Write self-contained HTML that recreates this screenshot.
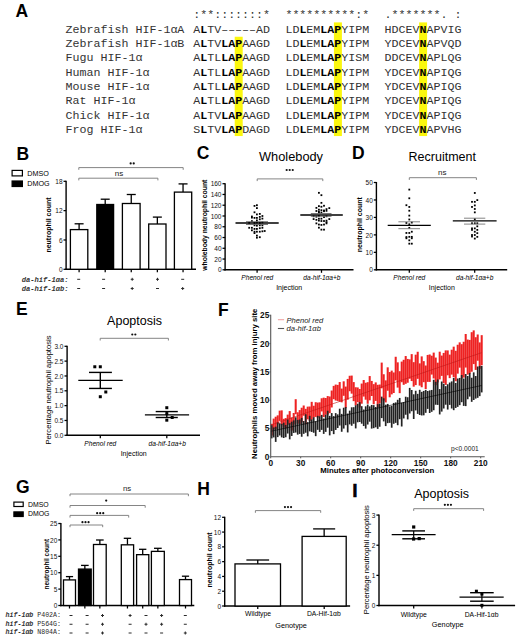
<!DOCTYPE html>
<html><head><meta charset="utf-8"><title>Figure</title>
<style>
html,body{margin:0;padding:0;background:#fff;}
body{width:520px;height:638px;overflow:hidden;font-family:"Liberation Sans",sans-serif;}
svg{display:block;}
</style></head>
<body>
<svg width="520" height="638" viewBox="0 0 520 638">
<rect x="0" y="0" width="520" height="638" fill="#fff"/>
<text x="15.60" y="16.90" font-size="17.5" text-anchor="start" font-weight="bold" font-style="normal" font-family="Liberation Sans, sans-serif" fill="#000" >A</text>
<rect x="234.70" y="36.75" width="8.00" height="99.30" fill="#fbf70e" stroke="none" stroke-width="0"/>
<rect x="333.90" y="22.40" width="8.00" height="113.65" fill="#fbf70e" stroke="none" stroke-width="0"/>
<rect x="419.10" y="22.40" width="8.00" height="113.65" fill="#fbf70e" stroke="none" stroke-width="0"/>
<text x="0" y="0" transform="translate(65.60,32.60) scale(1.0702,1)" font-size="10.9" font-family="Liberation Mono, monospace" fill="#333" xml:space="preserve">Zebrafish HIF-1&#945;A</text>
<text x="0" y="0" transform="translate(193.20,32.60) scale(1.0702,1)" font-size="10.9" font-family="Liberation Mono, monospace" fill="#333" xml:space="preserve">A<tspan font-weight="bold" fill="#000">L</tspan>TV&#8211;&#8211;&#8211;&#8211;&#8211;AD</text>
<text x="0" y="0" transform="translate(285.40,32.60) scale(1.0702,1)" font-size="10.9" font-family="Liberation Mono, monospace" fill="#333" xml:space="preserve">LD<tspan font-weight="bold" fill="#000">L</tspan>EM<tspan font-weight="bold" fill="#000">L</tspan><tspan font-weight="bold" fill="#000">A</tspan><tspan font-weight="bold" fill="#000">P</tspan>YIPM</text>
<text x="0" y="0" transform="translate(384.60,32.60) scale(1.0702,1)" font-size="10.9" font-family="Liberation Mono, monospace" fill="#333" xml:space="preserve">HDCEV<tspan font-weight="bold" fill="#000">N</tspan>APVIG</text>
<text x="0" y="0" transform="translate(65.60,46.95) scale(1.0702,1)" font-size="10.9" font-family="Liberation Mono, monospace" fill="#333" xml:space="preserve">Zebrafish HIF-1&#945;B</text>
<text x="0" y="0" transform="translate(193.20,46.95) scale(1.0702,1)" font-size="10.9" font-family="Liberation Mono, monospace" fill="#333" xml:space="preserve">A<tspan font-weight="bold" fill="#000">L</tspan>TV<tspan font-weight="bold" fill="#000">L</tspan><tspan font-weight="bold" fill="#000">A</tspan><tspan font-weight="bold" fill="#000">P</tspan>AAGD</text>
<text x="0" y="0" transform="translate(285.40,46.95) scale(1.0702,1)" font-size="10.9" font-family="Liberation Mono, monospace" fill="#333" xml:space="preserve">LD<tspan font-weight="bold" fill="#000">L</tspan>EM<tspan font-weight="bold" fill="#000">L</tspan><tspan font-weight="bold" fill="#000">A</tspan><tspan font-weight="bold" fill="#000">P</tspan>YIPM</text>
<text x="0" y="0" transform="translate(384.60,46.95) scale(1.0702,1)" font-size="10.9" font-family="Liberation Mono, monospace" fill="#333" xml:space="preserve">YDCEV<tspan font-weight="bold" fill="#000">N</tspan>APVQD</text>
<text x="0" y="0" transform="translate(65.60,61.30) scale(1.0702,1)" font-size="10.9" font-family="Liberation Mono, monospace" fill="#333" xml:space="preserve">Fugu HIF-1&#945;</text>
<text x="0" y="0" transform="translate(193.20,61.30) scale(1.0702,1)" font-size="10.9" font-family="Liberation Mono, monospace" fill="#333" xml:space="preserve">A<tspan font-weight="bold" fill="#000">L</tspan>TL<tspan font-weight="bold" fill="#000">L</tspan><tspan font-weight="bold" fill="#000">A</tspan><tspan font-weight="bold" fill="#000">P</tspan>AAGD</text>
<text x="0" y="0" transform="translate(285.40,61.30) scale(1.0702,1)" font-size="10.9" font-family="Liberation Mono, monospace" fill="#333" xml:space="preserve">LD<tspan font-weight="bold" fill="#000">L</tspan>EM<tspan font-weight="bold" fill="#000">L</tspan><tspan font-weight="bold" fill="#000">A</tspan><tspan font-weight="bold" fill="#000">P</tspan>YISM</text>
<text x="0" y="0" transform="translate(384.60,61.30) scale(1.0702,1)" font-size="10.9" font-family="Liberation Mono, monospace" fill="#333" xml:space="preserve">DDCEV<tspan font-weight="bold" fill="#000">N</tspan>APLQG</text>
<text x="0" y="0" transform="translate(65.60,75.65) scale(1.0702,1)" font-size="10.9" font-family="Liberation Mono, monospace" fill="#333" xml:space="preserve">Human HIF-1&#945;</text>
<text x="0" y="0" transform="translate(193.20,75.65) scale(1.0702,1)" font-size="10.9" font-family="Liberation Mono, monospace" fill="#333" xml:space="preserve">A<tspan font-weight="bold" fill="#000">L</tspan>TL<tspan font-weight="bold" fill="#000">L</tspan><tspan font-weight="bold" fill="#000">A</tspan><tspan font-weight="bold" fill="#000">P</tspan>AAGD</text>
<text x="0" y="0" transform="translate(285.40,75.65) scale(1.0702,1)" font-size="10.9" font-family="Liberation Mono, monospace" fill="#333" xml:space="preserve">LD<tspan font-weight="bold" fill="#000">L</tspan>EM<tspan font-weight="bold" fill="#000">L</tspan><tspan font-weight="bold" fill="#000">A</tspan><tspan font-weight="bold" fill="#000">P</tspan>YIPM</text>
<text x="0" y="0" transform="translate(384.60,75.65) scale(1.0702,1)" font-size="10.9" font-family="Liberation Mono, monospace" fill="#333" xml:space="preserve">YDCEV<tspan font-weight="bold" fill="#000">N</tspan>APIQG</text>
<text x="0" y="0" transform="translate(65.60,90.00) scale(1.0702,1)" font-size="10.9" font-family="Liberation Mono, monospace" fill="#333" xml:space="preserve">Mouse HIF-1&#945;</text>
<text x="0" y="0" transform="translate(193.20,90.00) scale(1.0702,1)" font-size="10.9" font-family="Liberation Mono, monospace" fill="#333" xml:space="preserve">A<tspan font-weight="bold" fill="#000">L</tspan>TL<tspan font-weight="bold" fill="#000">L</tspan><tspan font-weight="bold" fill="#000">A</tspan><tspan font-weight="bold" fill="#000">P</tspan>AAGD</text>
<text x="0" y="0" transform="translate(285.40,90.00) scale(1.0702,1)" font-size="10.9" font-family="Liberation Mono, monospace" fill="#333" xml:space="preserve">LD<tspan font-weight="bold" fill="#000">L</tspan>EM<tspan font-weight="bold" fill="#000">L</tspan><tspan font-weight="bold" fill="#000">A</tspan><tspan font-weight="bold" fill="#000">P</tspan>YIPM</text>
<text x="0" y="0" transform="translate(384.60,90.00) scale(1.0702,1)" font-size="10.9" font-family="Liberation Mono, monospace" fill="#333" xml:space="preserve">YDCEV<tspan font-weight="bold" fill="#000">N</tspan>APIQG</text>
<text x="0" y="0" transform="translate(65.60,104.35) scale(1.0702,1)" font-size="10.9" font-family="Liberation Mono, monospace" fill="#333" xml:space="preserve">Rat HIF-1&#945;</text>
<text x="0" y="0" transform="translate(193.20,104.35) scale(1.0702,1)" font-size="10.9" font-family="Liberation Mono, monospace" fill="#333" xml:space="preserve">A<tspan font-weight="bold" fill="#000">L</tspan>TL<tspan font-weight="bold" fill="#000">L</tspan><tspan font-weight="bold" fill="#000">A</tspan><tspan font-weight="bold" fill="#000">P</tspan>AAGD</text>
<text x="0" y="0" transform="translate(285.40,104.35) scale(1.0702,1)" font-size="10.9" font-family="Liberation Mono, monospace" fill="#333" xml:space="preserve">LD<tspan font-weight="bold" fill="#000">L</tspan>EM<tspan font-weight="bold" fill="#000">L</tspan><tspan font-weight="bold" fill="#000">A</tspan><tspan font-weight="bold" fill="#000">P</tspan>YIPM</text>
<text x="0" y="0" transform="translate(384.60,104.35) scale(1.0702,1)" font-size="10.9" font-family="Liberation Mono, monospace" fill="#333" xml:space="preserve">YDCEV<tspan font-weight="bold" fill="#000">N</tspan>APIQG</text>
<text x="0" y="0" transform="translate(65.60,118.70) scale(1.0702,1)" font-size="10.9" font-family="Liberation Mono, monospace" fill="#333" xml:space="preserve">Chick HIF-1&#945;</text>
<text x="0" y="0" transform="translate(193.20,118.70) scale(1.0702,1)" font-size="10.9" font-family="Liberation Mono, monospace" fill="#333" xml:space="preserve">A<tspan font-weight="bold" fill="#000">L</tspan>TV<tspan font-weight="bold" fill="#000">L</tspan><tspan font-weight="bold" fill="#000">A</tspan><tspan font-weight="bold" fill="#000">P</tspan>AAGD</text>
<text x="0" y="0" transform="translate(285.40,118.70) scale(1.0702,1)" font-size="10.9" font-family="Liberation Mono, monospace" fill="#333" xml:space="preserve">LD<tspan font-weight="bold" fill="#000">L</tspan>EM<tspan font-weight="bold" fill="#000">L</tspan><tspan font-weight="bold" fill="#000">A</tspan><tspan font-weight="bold" fill="#000">P</tspan>YIPM</text>
<text x="0" y="0" transform="translate(384.60,118.70) scale(1.0702,1)" font-size="10.9" font-family="Liberation Mono, monospace" fill="#333" xml:space="preserve">YDCEV<tspan font-weight="bold" fill="#000">N</tspan>APIQG</text>
<text x="0" y="0" transform="translate(65.60,133.05) scale(1.0702,1)" font-size="10.9" font-family="Liberation Mono, monospace" fill="#333" xml:space="preserve">Frog HIF-1&#945;</text>
<text x="0" y="0" transform="translate(193.20,133.05) scale(1.0702,1)" font-size="10.9" font-family="Liberation Mono, monospace" fill="#333" xml:space="preserve">S<tspan font-weight="bold" fill="#000">L</tspan>TV<tspan font-weight="bold" fill="#000">L</tspan><tspan font-weight="bold" fill="#000">A</tspan><tspan font-weight="bold" fill="#000">P</tspan>DAGD</text>
<text x="0" y="0" transform="translate(285.40,133.05) scale(1.0702,1)" font-size="10.9" font-family="Liberation Mono, monospace" fill="#333" xml:space="preserve">LD<tspan font-weight="bold" fill="#000">L</tspan>EM<tspan font-weight="bold" fill="#000">L</tspan><tspan font-weight="bold" fill="#000">A</tspan><tspan font-weight="bold" fill="#000">P</tspan>YIPM</text>
<text x="0" y="0" transform="translate(384.60,133.05) scale(1.0702,1)" font-size="10.9" font-family="Liberation Mono, monospace" fill="#333" xml:space="preserve">YDCEV<tspan font-weight="bold" fill="#000">N</tspan>APVHG</text>
<text x="0" y="0" transform="translate(193.20,18.25) scale(1.0702,1)" font-size="10.9" font-family="Liberation Mono, monospace" fill="#333" xml:space="preserve">:**:::::::*</text>
<text x="0" y="0" transform="translate(285.40,18.25) scale(1.0702,1)" font-size="10.9" font-family="Liberation Mono, monospace" fill="#333" xml:space="preserve">**********:*</text>
<text x="0" y="0" transform="translate(384.60,18.25) scale(1.0702,1)" font-size="10.9" font-family="Liberation Mono, monospace" fill="#333" xml:space="preserve">.*******. :</text>
<text x="16.60" y="159.60" font-size="17.5" text-anchor="start" font-weight="bold" font-style="normal" font-family="Liberation Sans, sans-serif" fill="#000" >B</text>
<rect x="12.10" y="170.40" width="10.30" height="5.50" fill="#fff" stroke="#000" stroke-width="1.2"/>
<text x="27.30" y="175.70" font-size="7.2" text-anchor="start" font-weight="normal" font-style="normal" font-family="Liberation Sans, sans-serif" fill="#000" >DMSO</text>
<rect x="12.10" y="181.00" width="10.30" height="5.50" fill="#000" stroke="#000" stroke-width="1.2"/>
<text x="27.30" y="186.00" font-size="7.2" text-anchor="start" font-weight="normal" font-style="normal" font-family="Liberation Sans, sans-serif" fill="#000" >DMOG</text>
<line x1="66.10" y1="180.80" x2="66.10" y2="270.00" stroke="#000" stroke-width="1.4" />
<line x1="63.50" y1="269.30" x2="66.10" y2="269.30" stroke="#000" stroke-width="1.26" />
<text x="62.50" y="271.93" font-size="6.5" text-anchor="end" font-weight="normal" font-style="normal" font-family="Liberation Sans, sans-serif" fill="#111" >0</text>
<line x1="63.50" y1="239.97" x2="66.10" y2="239.97" stroke="#000" stroke-width="1.26" />
<text x="62.50" y="242.59" font-size="6.5" text-anchor="end" font-weight="normal" font-style="normal" font-family="Liberation Sans, sans-serif" fill="#111" >6</text>
<line x1="63.50" y1="210.63" x2="66.10" y2="210.63" stroke="#000" stroke-width="1.26" />
<text x="62.50" y="213.26" font-size="6.5" text-anchor="end" font-weight="normal" font-style="normal" font-family="Liberation Sans, sans-serif" fill="#111" >12</text>
<line x1="63.50" y1="181.30" x2="66.10" y2="181.30" stroke="#000" stroke-width="1.26" />
<text x="62.50" y="183.93" font-size="6.5" text-anchor="end" font-weight="normal" font-style="normal" font-family="Liberation Sans, sans-serif" fill="#111" >18</text>
<line x1="65.40" y1="269.30" x2="196.00" y2="269.30" stroke="#000" stroke-width="1.4" />
<line x1="79.10" y1="269.30" x2="79.10" y2="272.30" stroke="#000" stroke-width="1.26" />
<line x1="105.20" y1="269.30" x2="105.20" y2="272.30" stroke="#000" stroke-width="1.26" />
<line x1="131.25" y1="269.30" x2="131.25" y2="272.30" stroke="#000" stroke-width="1.26" />
<line x1="157.35" y1="269.30" x2="157.35" y2="272.30" stroke="#000" stroke-width="1.26" />
<line x1="183.05" y1="269.30" x2="183.05" y2="272.30" stroke="#000" stroke-width="1.26" />
<line x1="79.10" y1="223.80" x2="79.10" y2="229.60" stroke="#000" stroke-width="1.3" />
<line x1="74.60" y1="223.80" x2="83.60" y2="223.80" stroke="#000" stroke-width="1.3" />
<rect x="70.40" y="229.60" width="17.40" height="39.70" fill="#fff" stroke="#000" stroke-width="1.3"/>
<line x1="105.20" y1="199.20" x2="105.20" y2="204.50" stroke="#000" stroke-width="1.3" />
<line x1="100.70" y1="199.20" x2="109.70" y2="199.20" stroke="#000" stroke-width="1.3" />
<rect x="96.80" y="204.50" width="16.80" height="64.80" fill="#000" stroke="#000" stroke-width="1.3"/>
<line x1="131.25" y1="194.50" x2="131.25" y2="203.50" stroke="#000" stroke-width="1.3" />
<line x1="126.75" y1="194.50" x2="135.75" y2="194.50" stroke="#000" stroke-width="1.3" />
<rect x="122.40" y="203.50" width="17.70" height="65.80" fill="#fff" stroke="#000" stroke-width="1.3"/>
<line x1="157.35" y1="217.10" x2="157.35" y2="224.00" stroke="#000" stroke-width="1.3" />
<line x1="152.85" y1="217.10" x2="161.85" y2="217.10" stroke="#000" stroke-width="1.3" />
<rect x="148.70" y="224.00" width="17.30" height="45.30" fill="#fff" stroke="#000" stroke-width="1.3"/>
<line x1="183.05" y1="183.90" x2="183.05" y2="192.10" stroke="#000" stroke-width="1.3" />
<line x1="178.55" y1="183.90" x2="187.55" y2="183.90" stroke="#000" stroke-width="1.3" />
<rect x="174.40" y="192.10" width="17.30" height="77.20" fill="#fff" stroke="#000" stroke-width="1.3"/>
<path d="M78.80,169.80 L78.80,167.60 L183.20,167.60 L183.20,169.80" fill="none" stroke="#777" stroke-width="0.9"/>
<circle cx="130.67" cy="163.40" r="1.1" fill="#111"/>
<circle cx="133.72" cy="163.40" r="1.1" fill="#111"/>
<path d="M78.80,180.40 L78.80,178.20 L157.90,178.20 L157.90,180.40" fill="none" stroke="#777" stroke-width="0.9"/>
<text x="119.00" y="176.20" font-size="8.0" text-anchor="middle" font-weight="normal" font-style="normal" font-family="Liberation Sans, sans-serif" fill="#222" >ns</text>
<text x="0" y="0" transform="translate(48.60,225.00) rotate(-90)" font-size="7.0" text-anchor="middle" dominant-baseline="central" font-weight="bold" font-style="normal" font-family="Liberation Sans, sans-serif" fill="#000">neutrophil count</text>
<text x="21.8" y="281.50" font-size="7.1" font-family="Liberation Mono, monospace" font-style="italic" font-weight="bold" fill="#333">da-hif-1&#945;a:</text>
<line x1="77.20" y1="279.30" x2="80.20" y2="279.30" stroke="#2a2a2a" stroke-width="1.0" />
<line x1="102.10" y1="279.30" x2="105.10" y2="279.30" stroke="#2a2a2a" stroke-width="1.0" />
<line x1="130.70" y1="279.30" x2="133.70" y2="279.30" stroke="#2a2a2a" stroke-width="1.0" />
<line x1="132.20" y1="277.80" x2="132.20" y2="280.80" stroke="#2a2a2a" stroke-width="1.0" />
<line x1="156.00" y1="279.30" x2="159.00" y2="279.30" stroke="#2a2a2a" stroke-width="1.0" />
<line x1="157.50" y1="277.80" x2="157.50" y2="280.80" stroke="#2a2a2a" stroke-width="1.0" />
<line x1="181.20" y1="279.30" x2="184.20" y2="279.30" stroke="#2a2a2a" stroke-width="1.0" />
<text x="21.8" y="290.50" font-size="7.1" font-family="Liberation Mono, monospace" font-style="italic" font-weight="bold" fill="#333">da-hif-1&#945;b:</text>
<line x1="77.20" y1="288.50" x2="80.20" y2="288.50" stroke="#2a2a2a" stroke-width="1.0" />
<line x1="102.10" y1="288.50" x2="105.10" y2="288.50" stroke="#2a2a2a" stroke-width="1.0" />
<line x1="130.70" y1="288.50" x2="133.70" y2="288.50" stroke="#2a2a2a" stroke-width="1.0" />
<line x1="132.20" y1="287.00" x2="132.20" y2="290.00" stroke="#2a2a2a" stroke-width="1.0" />
<line x1="156.00" y1="288.50" x2="159.00" y2="288.50" stroke="#2a2a2a" stroke-width="1.0" />
<line x1="181.20" y1="288.50" x2="184.20" y2="288.50" stroke="#2a2a2a" stroke-width="1.0" />
<line x1="182.70" y1="287.00" x2="182.70" y2="290.00" stroke="#2a2a2a" stroke-width="1.0" />
<text x="196.80" y="158.80" font-size="17.5" text-anchor="start" font-weight="bold" font-style="normal" font-family="Liberation Sans, sans-serif" fill="#000" >C</text>
<text x="259.00" y="161.00" font-size="12.8" text-anchor="start" font-weight="normal" font-style="normal" font-family="Liberation Sans, sans-serif" fill="#000" >Wholebody</text>
<line x1="225.10" y1="183.20" x2="225.10" y2="270.50" stroke="#000" stroke-width="1.4" />
<line x1="222.50" y1="269.80" x2="225.10" y2="269.80" stroke="#000" stroke-width="1.26" />
<text x="221.50" y="272.43" font-size="6.5" text-anchor="end" font-weight="normal" font-style="normal" font-family="Liberation Sans, sans-serif" fill="#111" >0</text>
<line x1="222.50" y1="259.04" x2="225.10" y2="259.04" stroke="#000" stroke-width="1.26" />
<text x="221.50" y="261.66" font-size="6.5" text-anchor="end" font-weight="normal" font-style="normal" font-family="Liberation Sans, sans-serif" fill="#111" >20</text>
<line x1="222.50" y1="248.28" x2="225.10" y2="248.28" stroke="#000" stroke-width="1.26" />
<text x="221.50" y="250.90" font-size="6.5" text-anchor="end" font-weight="normal" font-style="normal" font-family="Liberation Sans, sans-serif" fill="#111" >40</text>
<line x1="222.50" y1="237.51" x2="225.10" y2="237.51" stroke="#000" stroke-width="1.26" />
<text x="221.50" y="240.14" font-size="6.5" text-anchor="end" font-weight="normal" font-style="normal" font-family="Liberation Sans, sans-serif" fill="#111" >60</text>
<line x1="222.50" y1="226.75" x2="225.10" y2="226.75" stroke="#000" stroke-width="1.26" />
<text x="221.50" y="229.38" font-size="6.5" text-anchor="end" font-weight="normal" font-style="normal" font-family="Liberation Sans, sans-serif" fill="#111" >80</text>
<line x1="222.50" y1="215.99" x2="225.10" y2="215.99" stroke="#000" stroke-width="1.26" />
<text x="221.50" y="218.61" font-size="6.5" text-anchor="end" font-weight="normal" font-style="normal" font-family="Liberation Sans, sans-serif" fill="#111" >100</text>
<line x1="222.50" y1="205.22" x2="225.10" y2="205.22" stroke="#000" stroke-width="1.26" />
<text x="221.50" y="207.85" font-size="6.5" text-anchor="end" font-weight="normal" font-style="normal" font-family="Liberation Sans, sans-serif" fill="#111" >120</text>
<line x1="222.50" y1="194.46" x2="225.10" y2="194.46" stroke="#000" stroke-width="1.26" />
<text x="221.50" y="197.09" font-size="6.5" text-anchor="end" font-weight="normal" font-style="normal" font-family="Liberation Sans, sans-serif" fill="#111" >140</text>
<line x1="222.50" y1="183.70" x2="225.10" y2="183.70" stroke="#000" stroke-width="1.26" />
<text x="221.50" y="186.33" font-size="6.5" text-anchor="end" font-weight="normal" font-style="normal" font-family="Liberation Sans, sans-serif" fill="#111" >160</text>
<line x1="224.40" y1="269.80" x2="353.50" y2="269.80" stroke="#000" stroke-width="1.4" />
<line x1="257.10" y1="269.80" x2="257.10" y2="272.80" stroke="#000" stroke-width="1.26" />
<line x1="321.50" y1="269.80" x2="321.50" y2="272.80" stroke="#000" stroke-width="1.26" />
<path d="M257.20,181.10 L257.20,178.90 L322.80,178.90 L322.80,181.10" fill="none" stroke="#777" stroke-width="0.9"/>
<circle cx="286.65" cy="170.00" r="1.1" fill="#111"/>
<circle cx="289.70" cy="170.00" r="1.1" fill="#111"/>
<circle cx="292.75" cy="170.00" r="1.1" fill="#111"/>
<text x="0" y="0" transform="translate(204.30,225.20) rotate(-90)" font-size="6.8" text-anchor="middle" dominant-baseline="central" font-weight="bold" font-style="normal" font-family="Liberation Sans, sans-serif" fill="#000">wholebody neutrophil count</text>
<text x="257.30" y="279.60" font-size="6.6" text-anchor="middle" font-weight="normal" font-style="italic" font-family="Liberation Sans, sans-serif" fill="#000" >Phenol red</text>
<text x="321.90" y="279.60" font-size="6.6" text-anchor="middle" font-weight="normal" font-style="italic" font-family="Liberation Sans, sans-serif" fill="#000" >da-hif-1&#945;a+b</text>
<text x="289.20" y="289.80" font-size="7.0" text-anchor="middle" font-weight="normal" font-style="normal" font-family="Liberation Sans, sans-serif" fill="#000" >Injection</text>
<rect x="253.60" y="205.00" width="1.80" height="1.80" fill="#000" stroke="none" stroke-width="0"/>
<rect x="256.00" y="204.30" width="1.80" height="1.80" fill="#000" stroke="none" stroke-width="0"/>
<rect x="256.00" y="207.20" width="1.80" height="1.80" fill="#000" stroke="none" stroke-width="0"/>
<rect x="253.60" y="211.40" width="1.80" height="1.80" fill="#000" stroke="none" stroke-width="0"/>
<rect x="256.00" y="213.50" width="1.80" height="1.80" fill="#000" stroke="none" stroke-width="0"/>
<rect x="258.90" y="213.00" width="1.80" height="1.80" fill="#000" stroke="none" stroke-width="0"/>
<rect x="261.50" y="215.10" width="1.80" height="1.80" fill="#000" stroke="none" stroke-width="0"/>
<rect x="251.00" y="215.60" width="1.80" height="1.80" fill="#000" stroke="none" stroke-width="0"/>
<rect x="251.00" y="216.70" width="1.80" height="1.80" fill="#000" stroke="none" stroke-width="0"/>
<rect x="253.60" y="217.00" width="1.80" height="1.80" fill="#000" stroke="none" stroke-width="0"/>
<rect x="256.00" y="217.00" width="1.80" height="1.80" fill="#000" stroke="none" stroke-width="0"/>
<rect x="258.90" y="216.00" width="1.80" height="1.80" fill="#000" stroke="none" stroke-width="0"/>
<rect x="261.50" y="217.70" width="1.80" height="1.80" fill="#000" stroke="none" stroke-width="0"/>
<rect x="258.90" y="218.40" width="1.80" height="1.80" fill="#000" stroke="none" stroke-width="0"/>
<rect x="256.00" y="219.50" width="1.80" height="1.80" fill="#000" stroke="none" stroke-width="0"/>
<rect x="251.00" y="220.20" width="1.80" height="1.80" fill="#000" stroke="none" stroke-width="0"/>
<rect x="253.60" y="222.00" width="1.80" height="1.80" fill="#000" stroke="none" stroke-width="0"/>
<rect x="256.00" y="221.60" width="1.80" height="1.80" fill="#000" stroke="none" stroke-width="0"/>
<rect x="258.90" y="222.00" width="1.80" height="1.80" fill="#000" stroke="none" stroke-width="0"/>
<rect x="253.60" y="224.40" width="1.80" height="1.80" fill="#000" stroke="none" stroke-width="0"/>
<rect x="256.00" y="224.80" width="1.80" height="1.80" fill="#000" stroke="none" stroke-width="0"/>
<rect x="258.90" y="224.40" width="1.80" height="1.80" fill="#000" stroke="none" stroke-width="0"/>
<rect x="261.50" y="224.40" width="1.80" height="1.80" fill="#000" stroke="none" stroke-width="0"/>
<rect x="248.30" y="226.90" width="1.80" height="1.80" fill="#000" stroke="none" stroke-width="0"/>
<rect x="251.00" y="226.90" width="1.80" height="1.80" fill="#000" stroke="none" stroke-width="0"/>
<rect x="253.60" y="228.00" width="1.80" height="1.80" fill="#000" stroke="none" stroke-width="0"/>
<rect x="256.00" y="228.00" width="1.80" height="1.80" fill="#000" stroke="none" stroke-width="0"/>
<rect x="258.90" y="227.30" width="1.80" height="1.80" fill="#000" stroke="none" stroke-width="0"/>
<rect x="261.50" y="226.90" width="1.80" height="1.80" fill="#000" stroke="none" stroke-width="0"/>
<rect x="251.00" y="229.40" width="1.80" height="1.80" fill="#000" stroke="none" stroke-width="0"/>
<rect x="253.60" y="230.80" width="1.80" height="1.80" fill="#000" stroke="none" stroke-width="0"/>
<rect x="256.00" y="230.80" width="1.80" height="1.80" fill="#000" stroke="none" stroke-width="0"/>
<rect x="258.90" y="230.80" width="1.80" height="1.80" fill="#000" stroke="none" stroke-width="0"/>
<rect x="261.50" y="230.40" width="1.80" height="1.80" fill="#000" stroke="none" stroke-width="0"/>
<rect x="263.80" y="230.10" width="1.80" height="1.80" fill="#000" stroke="none" stroke-width="0"/>
<rect x="253.60" y="232.20" width="1.80" height="1.80" fill="#000" stroke="none" stroke-width="0"/>
<rect x="256.00" y="234.70" width="1.80" height="1.80" fill="#000" stroke="none" stroke-width="0"/>
<rect x="256.00" y="236.80" width="1.80" height="1.80" fill="#000" stroke="none" stroke-width="0"/>
<rect x="258.90" y="236.30" width="1.80" height="1.80" fill="#000" stroke="none" stroke-width="0"/>
<rect x="261.50" y="221.60" width="1.80" height="1.80" fill="#000" stroke="none" stroke-width="0"/>
<rect x="248.30" y="222.00" width="1.80" height="1.80" fill="#000" stroke="none" stroke-width="0"/>
<line x1="246.00" y1="221.70" x2="268.00" y2="221.70" stroke="#666" stroke-width="0.9" />
<line x1="246.00" y1="224.50" x2="268.00" y2="224.50" stroke="#666" stroke-width="0.9" />
<line x1="235.50" y1="223.10" x2="278.70" y2="223.10" stroke="#000" stroke-width="1.5" />
<rect x="318.00" y="191.93" width="1.80" height="1.80" fill="#000" stroke="none" stroke-width="0"/>
<rect x="320.50" y="194.28" width="1.80" height="1.80" fill="#000" stroke="none" stroke-width="0"/>
<rect x="320.50" y="201.95" width="1.80" height="1.80" fill="#000" stroke="none" stroke-width="0"/>
<rect x="318.00" y="205.24" width="1.80" height="1.80" fill="#000" stroke="none" stroke-width="0"/>
<rect x="320.50" y="205.87" width="1.80" height="1.80" fill="#000" stroke="none" stroke-width="0"/>
<rect x="323.10" y="204.85" width="1.80" height="1.80" fill="#000" stroke="none" stroke-width="0"/>
<rect x="315.50" y="206.97" width="1.80" height="1.80" fill="#000" stroke="none" stroke-width="0"/>
<rect x="328.40" y="207.20" width="1.80" height="1.80" fill="#000" stroke="none" stroke-width="0"/>
<rect x="318.00" y="208.77" width="1.80" height="1.80" fill="#000" stroke="none" stroke-width="0"/>
<rect x="320.50" y="209.32" width="1.80" height="1.80" fill="#000" stroke="none" stroke-width="0"/>
<rect x="323.10" y="209.55" width="1.80" height="1.80" fill="#000" stroke="none" stroke-width="0"/>
<rect x="325.60" y="208.22" width="1.80" height="1.80" fill="#000" stroke="none" stroke-width="0"/>
<rect x="315.50" y="210.10" width="1.80" height="1.80" fill="#000" stroke="none" stroke-width="0"/>
<rect x="318.00" y="210.72" width="1.80" height="1.80" fill="#000" stroke="none" stroke-width="0"/>
<rect x="323.10" y="210.33" width="1.80" height="1.80" fill="#000" stroke="none" stroke-width="0"/>
<rect x="325.60" y="209.94" width="1.80" height="1.80" fill="#000" stroke="none" stroke-width="0"/>
<rect x="318.00" y="211.90" width="1.80" height="1.80" fill="#000" stroke="none" stroke-width="0"/>
<rect x="320.50" y="211.66" width="1.80" height="1.80" fill="#000" stroke="none" stroke-width="0"/>
<rect x="312.70" y="215.42" width="1.80" height="1.80" fill="#000" stroke="none" stroke-width="0"/>
<rect x="315.50" y="215.81" width="1.80" height="1.80" fill="#000" stroke="none" stroke-width="0"/>
<rect x="318.00" y="215.03" width="1.80" height="1.80" fill="#000" stroke="none" stroke-width="0"/>
<rect x="325.60" y="215.42" width="1.80" height="1.80" fill="#000" stroke="none" stroke-width="0"/>
<rect x="323.10" y="216.21" width="1.80" height="1.80" fill="#000" stroke="none" stroke-width="0"/>
<rect x="312.70" y="218.16" width="1.80" height="1.80" fill="#000" stroke="none" stroke-width="0"/>
<rect x="315.50" y="218.95" width="1.80" height="1.80" fill="#000" stroke="none" stroke-width="0"/>
<rect x="318.00" y="217.77" width="1.80" height="1.80" fill="#000" stroke="none" stroke-width="0"/>
<rect x="320.50" y="217.77" width="1.80" height="1.80" fill="#000" stroke="none" stroke-width="0"/>
<rect x="318.00" y="219.73" width="1.80" height="1.80" fill="#000" stroke="none" stroke-width="0"/>
<rect x="320.50" y="220.12" width="1.80" height="1.80" fill="#000" stroke="none" stroke-width="0"/>
<rect x="323.10" y="220.12" width="1.80" height="1.80" fill="#000" stroke="none" stroke-width="0"/>
<rect x="325.60" y="219.73" width="1.80" height="1.80" fill="#000" stroke="none" stroke-width="0"/>
<rect x="328.40" y="218.16" width="1.80" height="1.80" fill="#000" stroke="none" stroke-width="0"/>
<rect x="325.60" y="221.30" width="1.80" height="1.80" fill="#000" stroke="none" stroke-width="0"/>
<rect x="325.60" y="222.47" width="1.80" height="1.80" fill="#000" stroke="none" stroke-width="0"/>
<rect x="315.50" y="222.47" width="1.80" height="1.80" fill="#000" stroke="none" stroke-width="0"/>
<rect x="318.00" y="223.65" width="1.80" height="1.80" fill="#000" stroke="none" stroke-width="0"/>
<rect x="320.50" y="224.04" width="1.80" height="1.80" fill="#000" stroke="none" stroke-width="0"/>
<rect x="323.10" y="223.65" width="1.80" height="1.80" fill="#000" stroke="none" stroke-width="0"/>
<rect x="318.00" y="226.78" width="1.80" height="1.80" fill="#000" stroke="none" stroke-width="0"/>
<rect x="320.50" y="228.74" width="1.80" height="1.80" fill="#000" stroke="none" stroke-width="0"/>
<rect x="323.10" y="228.74" width="1.80" height="1.80" fill="#000" stroke="none" stroke-width="0"/>
<line x1="310.80" y1="213.50" x2="331.50" y2="213.50" stroke="#666" stroke-width="0.9" />
<line x1="310.80" y1="216.30" x2="331.50" y2="216.30" stroke="#666" stroke-width="0.9" />
<line x1="300.30" y1="214.90" x2="342.80" y2="214.90" stroke="#000" stroke-width="1.5" />
<text x="352.00" y="159.30" font-size="17.5" text-anchor="start" font-weight="bold" font-style="normal" font-family="Liberation Sans, sans-serif" fill="#000" >D</text>
<text x="408.60" y="161.40" font-size="12.5" text-anchor="start" font-weight="normal" font-style="normal" font-family="Liberation Sans, sans-serif" fill="#000" >Recruitment</text>
<line x1="376.40" y1="182.00" x2="376.40" y2="270.50" stroke="#000" stroke-width="1.4" />
<line x1="373.80" y1="269.80" x2="376.40" y2="269.80" stroke="#000" stroke-width="1.26" />
<text x="372.80" y="272.43" font-size="6.5" text-anchor="end" font-weight="normal" font-style="normal" font-family="Liberation Sans, sans-serif" fill="#111" >0</text>
<line x1="373.80" y1="252.34" x2="376.40" y2="252.34" stroke="#000" stroke-width="1.26" />
<text x="372.80" y="254.97" font-size="6.5" text-anchor="end" font-weight="normal" font-style="normal" font-family="Liberation Sans, sans-serif" fill="#111" >10</text>
<line x1="373.80" y1="234.88" x2="376.40" y2="234.88" stroke="#000" stroke-width="1.26" />
<text x="372.80" y="237.51" font-size="6.5" text-anchor="end" font-weight="normal" font-style="normal" font-family="Liberation Sans, sans-serif" fill="#111" >20</text>
<line x1="373.80" y1="217.42" x2="376.40" y2="217.42" stroke="#000" stroke-width="1.26" />
<text x="372.80" y="220.05" font-size="6.5" text-anchor="end" font-weight="normal" font-style="normal" font-family="Liberation Sans, sans-serif" fill="#111" >30</text>
<line x1="373.80" y1="199.96" x2="376.40" y2="199.96" stroke="#000" stroke-width="1.26" />
<text x="372.80" y="202.59" font-size="6.5" text-anchor="end" font-weight="normal" font-style="normal" font-family="Liberation Sans, sans-serif" fill="#111" >40</text>
<line x1="373.80" y1="182.50" x2="376.40" y2="182.50" stroke="#000" stroke-width="1.26" />
<text x="372.80" y="185.13" font-size="6.5" text-anchor="end" font-weight="normal" font-style="normal" font-family="Liberation Sans, sans-serif" fill="#111" >50</text>
<line x1="375.70" y1="269.80" x2="507.20" y2="269.80" stroke="#000" stroke-width="1.4" />
<line x1="409.30" y1="269.80" x2="409.30" y2="272.80" stroke="#000" stroke-width="1.26" />
<line x1="474.70" y1="269.80" x2="474.70" y2="272.80" stroke="#000" stroke-width="1.26" />
<path d="M409.30,179.90 L409.30,177.70 L476.40,177.70 L476.40,179.90" fill="none" stroke="#777" stroke-width="0.9"/>
<text x="442.20" y="174.50" font-size="8.0" text-anchor="middle" font-weight="normal" font-style="normal" font-family="Liberation Sans, sans-serif" fill="#222" >ns</text>
<text x="0" y="0" transform="translate(359.80,224.70) rotate(-90)" font-size="7.0" text-anchor="middle" dominant-baseline="central" font-weight="bold" font-style="normal" font-family="Liberation Sans, sans-serif" fill="#000">neutrophil count</text>
<text x="409.30" y="279.70" font-size="6.6" text-anchor="middle" font-weight="normal" font-style="italic" font-family="Liberation Sans, sans-serif" fill="#000" >Phenol red</text>
<text x="474.70" y="279.70" font-size="6.6" text-anchor="middle" font-weight="normal" font-style="italic" font-family="Liberation Sans, sans-serif" fill="#000" >da-hif-1&#945;a+b</text>
<text x="441.80" y="290.30" font-size="7.0" text-anchor="middle" font-weight="normal" font-style="normal" font-family="Liberation Sans, sans-serif" fill="#000" >Injection</text>
<rect x="408.40" y="188.69" width="1.80" height="1.80" fill="#000" stroke="none" stroke-width="0"/>
<rect x="408.40" y="197.37" width="1.80" height="1.80" fill="#000" stroke="none" stroke-width="0"/>
<rect x="405.50" y="204.30" width="1.80" height="1.80" fill="#000" stroke="none" stroke-width="0"/>
<rect x="408.40" y="206.04" width="1.80" height="1.80" fill="#000" stroke="none" stroke-width="0"/>
<rect x="408.40" y="209.81" width="1.80" height="1.80" fill="#000" stroke="none" stroke-width="0"/>
<rect x="408.40" y="214.71" width="1.80" height="1.80" fill="#000" stroke="none" stroke-width="0"/>
<rect x="408.40" y="218.59" width="1.80" height="1.80" fill="#000" stroke="none" stroke-width="0"/>
<rect x="405.50" y="222.06" width="1.80" height="1.80" fill="#000" stroke="none" stroke-width="0"/>
<rect x="410.90" y="221.65" width="1.80" height="1.80" fill="#000" stroke="none" stroke-width="0"/>
<rect x="408.40" y="223.39" width="1.80" height="1.80" fill="#000" stroke="none" stroke-width="0"/>
<rect x="408.40" y="226.96" width="1.80" height="1.80" fill="#000" stroke="none" stroke-width="0"/>
<rect x="410.90" y="230.83" width="1.80" height="1.80" fill="#000" stroke="none" stroke-width="0"/>
<rect x="405.50" y="232.06" width="1.80" height="1.80" fill="#000" stroke="none" stroke-width="0"/>
<rect x="408.40" y="232.06" width="1.80" height="1.80" fill="#000" stroke="none" stroke-width="0"/>
<rect x="405.50" y="236.14" width="1.80" height="1.80" fill="#000" stroke="none" stroke-width="0"/>
<rect x="408.40" y="235.94" width="1.80" height="1.80" fill="#000" stroke="none" stroke-width="0"/>
<rect x="410.90" y="235.94" width="1.80" height="1.80" fill="#000" stroke="none" stroke-width="0"/>
<rect x="405.50" y="237.37" width="1.80" height="1.80" fill="#000" stroke="none" stroke-width="0"/>
<rect x="410.90" y="237.37" width="1.80" height="1.80" fill="#000" stroke="none" stroke-width="0"/>
<rect x="408.40" y="239.41" width="1.80" height="1.80" fill="#000" stroke="none" stroke-width="0"/>
<rect x="408.40" y="242.77" width="1.80" height="1.80" fill="#000" stroke="none" stroke-width="0"/>
<rect x="410.90" y="242.77" width="1.80" height="1.80" fill="#000" stroke="none" stroke-width="0"/>
<line x1="387.70" y1="225.30" x2="430.80" y2="225.30" stroke="#000" stroke-width="1.2" />
<line x1="398.40" y1="221.80" x2="420.00" y2="221.80" stroke="#777" stroke-width="0.9" />
<line x1="398.40" y1="228.70" x2="420.00" y2="228.70" stroke="#777" stroke-width="0.9" />
<rect x="473.90" y="192.06" width="1.80" height="1.80" fill="#000" stroke="none" stroke-width="0"/>
<rect x="476.40" y="199.20" width="1.80" height="1.80" fill="#000" stroke="none" stroke-width="0"/>
<rect x="471.10" y="200.94" width="1.80" height="1.80" fill="#000" stroke="none" stroke-width="0"/>
<rect x="473.90" y="200.94" width="1.80" height="1.80" fill="#000" stroke="none" stroke-width="0"/>
<rect x="471.10" y="206.04" width="1.80" height="1.80" fill="#000" stroke="none" stroke-width="0"/>
<rect x="473.90" y="204.51" width="1.80" height="1.80" fill="#000" stroke="none" stroke-width="0"/>
<rect x="473.90" y="208.08" width="1.80" height="1.80" fill="#000" stroke="none" stroke-width="0"/>
<rect x="473.90" y="211.45" width="1.80" height="1.80" fill="#000" stroke="none" stroke-width="0"/>
<rect x="473.90" y="218.28" width="1.80" height="1.80" fill="#000" stroke="none" stroke-width="0"/>
<rect x="471.10" y="222.37" width="1.80" height="1.80" fill="#000" stroke="none" stroke-width="0"/>
<rect x="473.90" y="222.37" width="1.80" height="1.80" fill="#000" stroke="none" stroke-width="0"/>
<rect x="476.40" y="222.37" width="1.80" height="1.80" fill="#000" stroke="none" stroke-width="0"/>
<rect x="476.40" y="225.43" width="1.80" height="1.80" fill="#000" stroke="none" stroke-width="0"/>
<rect x="471.10" y="227.47" width="1.80" height="1.80" fill="#000" stroke="none" stroke-width="0"/>
<rect x="473.90" y="227.47" width="1.80" height="1.80" fill="#000" stroke="none" stroke-width="0"/>
<rect x="471.10" y="229.00" width="1.80" height="1.80" fill="#000" stroke="none" stroke-width="0"/>
<rect x="476.40" y="229.00" width="1.80" height="1.80" fill="#000" stroke="none" stroke-width="0"/>
<rect x="473.90" y="230.83" width="1.80" height="1.80" fill="#000" stroke="none" stroke-width="0"/>
<rect x="476.40" y="232.26" width="1.80" height="1.80" fill="#000" stroke="none" stroke-width="0"/>
<rect x="471.10" y="234.10" width="1.80" height="1.80" fill="#000" stroke="none" stroke-width="0"/>
<rect x="473.90" y="234.10" width="1.80" height="1.80" fill="#000" stroke="none" stroke-width="0"/>
<rect x="471.10" y="235.63" width="1.80" height="1.80" fill="#000" stroke="none" stroke-width="0"/>
<rect x="476.40" y="235.94" width="1.80" height="1.80" fill="#000" stroke="none" stroke-width="0"/>
<rect x="473.90" y="237.67" width="1.80" height="1.80" fill="#000" stroke="none" stroke-width="0"/>
<line x1="452.80" y1="220.90" x2="496.60" y2="220.90" stroke="#000" stroke-width="1.2" />
<line x1="464.00" y1="218.20" x2="485.30" y2="218.20" stroke="#777" stroke-width="0.9" />
<line x1="464.00" y1="224.10" x2="485.30" y2="224.10" stroke="#777" stroke-width="0.9" />
<text x="16.10" y="315.20" font-size="17.5" text-anchor="start" font-weight="bold" font-style="normal" font-family="Liberation Sans, sans-serif" fill="#000" >E</text>
<text x="107.10" y="325.30" font-size="12.5" text-anchor="start" font-weight="normal" font-style="normal" font-family="Liberation Sans, sans-serif" fill="#000" >Apoptosis</text>
<line x1="67.10" y1="345.80" x2="67.10" y2="436.00" stroke="#000" stroke-width="1.4" />
<line x1="64.50" y1="435.30" x2="67.10" y2="435.30" stroke="#000" stroke-width="1.26" />
<text x="63.50" y="437.93" font-size="6.5" text-anchor="end" font-weight="normal" font-style="normal" font-family="Liberation Sans, sans-serif" fill="#111" >0.0</text>
<line x1="64.50" y1="420.47" x2="67.10" y2="420.47" stroke="#000" stroke-width="1.26" />
<text x="63.50" y="423.09" font-size="6.5" text-anchor="end" font-weight="normal" font-style="normal" font-family="Liberation Sans, sans-serif" fill="#111" >0.5</text>
<line x1="64.50" y1="405.63" x2="67.10" y2="405.63" stroke="#000" stroke-width="1.26" />
<text x="63.50" y="408.26" font-size="6.5" text-anchor="end" font-weight="normal" font-style="normal" font-family="Liberation Sans, sans-serif" fill="#111" >1.0</text>
<line x1="64.50" y1="390.80" x2="67.10" y2="390.80" stroke="#000" stroke-width="1.26" />
<text x="63.50" y="393.43" font-size="6.5" text-anchor="end" font-weight="normal" font-style="normal" font-family="Liberation Sans, sans-serif" fill="#111" >1.5</text>
<line x1="64.50" y1="375.97" x2="67.10" y2="375.97" stroke="#000" stroke-width="1.26" />
<text x="63.50" y="378.59" font-size="6.5" text-anchor="end" font-weight="normal" font-style="normal" font-family="Liberation Sans, sans-serif" fill="#111" >2.0</text>
<line x1="64.50" y1="361.13" x2="67.10" y2="361.13" stroke="#000" stroke-width="1.26" />
<text x="63.50" y="363.76" font-size="6.5" text-anchor="end" font-weight="normal" font-style="normal" font-family="Liberation Sans, sans-serif" fill="#111" >2.5</text>
<line x1="64.50" y1="346.30" x2="67.10" y2="346.30" stroke="#000" stroke-width="1.26" />
<text x="63.50" y="348.93" font-size="6.5" text-anchor="end" font-weight="normal" font-style="normal" font-family="Liberation Sans, sans-serif" fill="#111" >3.0</text>
<line x1="66.40" y1="435.30" x2="200.00" y2="435.30" stroke="#000" stroke-width="1.4" />
<line x1="100.30" y1="435.30" x2="100.30" y2="438.30" stroke="#000" stroke-width="1.26" />
<line x1="166.80" y1="435.30" x2="166.80" y2="438.30" stroke="#000" stroke-width="1.26" />
<path d="M100.20,340.50 L100.20,338.30 L168.40,338.30 L168.40,340.50" fill="none" stroke="#777" stroke-width="0.9"/>
<circle cx="132.28" cy="334.50" r="1.1" fill="#111"/>
<circle cx="135.33" cy="334.50" r="1.1" fill="#111"/>
<text x="0" y="0" transform="translate(48.70,390.00) rotate(-90)" font-size="7.6" text-anchor="middle" dominant-baseline="central" font-weight="normal" font-style="normal" font-family="Liberation Sans, sans-serif" fill="#000">Percentage neutrophil  apoptosis</text>
<text x="100.30" y="445.60" font-size="6.6" text-anchor="middle" font-weight="normal" font-style="italic" font-family="Liberation Sans, sans-serif" fill="#000" >Phenol red</text>
<text x="167.20" y="445.60" font-size="6.6" text-anchor="middle" font-weight="normal" font-style="italic" font-family="Liberation Sans, sans-serif" fill="#000" >da-hif-1&#945;a+b</text>
<text x="133.70" y="455.80" font-size="7.0" text-anchor="middle" font-weight="normal" font-style="normal" font-family="Liberation Sans, sans-serif" fill="#000" >Injection</text>
<line x1="78.30" y1="380.42" x2="122.70" y2="380.42" stroke="#000" stroke-width="1.4" />
<line x1="89.00" y1="372.41" x2="111.90" y2="372.41" stroke="#000" stroke-width="1.4" />
<line x1="89.00" y1="388.43" x2="111.90" y2="388.43" stroke="#000" stroke-width="1.4" />
<line x1="100.30" y1="372.41" x2="100.30" y2="388.43" stroke="#000" stroke-width="1.4" />
<rect x="93.30" y="365.27" width="3.00" height="3.00" fill="#000" stroke="none" stroke-width="0"/>
<rect x="98.80" y="365.27" width="3.00" height="3.00" fill="#000" stroke="none" stroke-width="0"/>
<rect x="104.30" y="390.49" width="3.00" height="3.00" fill="#000" stroke="none" stroke-width="0"/>
<rect x="98.80" y="395.23" width="3.00" height="3.00" fill="#000" stroke="none" stroke-width="0"/>
<line x1="144.90" y1="414.83" x2="189.10" y2="414.83" stroke="#000" stroke-width="1.4" />
<line x1="155.70" y1="411.57" x2="177.80" y2="411.57" stroke="#000" stroke-width="1.4" />
<line x1="155.70" y1="417.50" x2="177.80" y2="417.50" stroke="#000" stroke-width="1.4" />
<line x1="166.80" y1="411.57" x2="166.80" y2="417.50" stroke="#000" stroke-width="1.4" />
<rect x="165.30" y="406.21" width="3.00" height="3.00" fill="#000" stroke="none" stroke-width="0"/>
<rect x="165.30" y="412.14" width="3.00" height="3.00" fill="#000" stroke="none" stroke-width="0"/>
<rect x="170.70" y="416.00" width="3.00" height="3.00" fill="#000" stroke="none" stroke-width="0"/>
<rect x="165.30" y="418.67" width="3.00" height="3.00" fill="#000" stroke="none" stroke-width="0"/>
<text x="217.90" y="316.20" font-size="17.5" text-anchor="start" font-weight="bold" font-style="normal" font-family="Liberation Sans, sans-serif" fill="#000" >F</text>
<line x1="271.70" y1="423.77" x2="271.70" y2="435.50" stroke="#ee2222" stroke-width="2.05"/>
<line x1="273.70" y1="418.59" x2="273.70" y2="429.55" stroke="#ee2222" stroke-width="2.05"/>
<line x1="275.70" y1="416.71" x2="275.70" y2="429.00" stroke="#ee2222" stroke-width="2.05"/>
<line x1="277.70" y1="415.35" x2="277.70" y2="424.28" stroke="#ee2222" stroke-width="2.05"/>
<line x1="279.70" y1="410.64" x2="279.70" y2="420.94" stroke="#ee2222" stroke-width="2.05"/>
<line x1="281.70" y1="410.34" x2="281.70" y2="425.21" stroke="#ee2222" stroke-width="2.05"/>
<line x1="283.70" y1="418.80" x2="283.70" y2="427.38" stroke="#ee2222" stroke-width="2.05"/>
<line x1="285.70" y1="418.08" x2="285.70" y2="428.37" stroke="#ee2222" stroke-width="2.05"/>
<line x1="287.70" y1="414.63" x2="287.70" y2="424.74" stroke="#ee2222" stroke-width="2.05"/>
<line x1="289.70" y1="411.09" x2="289.70" y2="424.42" stroke="#ee2222" stroke-width="2.05"/>
<line x1="291.70" y1="417.48" x2="291.70" y2="430.56" stroke="#ee2222" stroke-width="2.05"/>
<line x1="293.70" y1="412.98" x2="293.70" y2="424.55" stroke="#ee2222" stroke-width="2.05"/>
<line x1="295.70" y1="399.19" x2="295.70" y2="414.25" stroke="#ee2222" stroke-width="2.05"/>
<line x1="297.70" y1="412.27" x2="297.70" y2="423.42" stroke="#ee2222" stroke-width="2.05"/>
<line x1="299.70" y1="410.10" x2="299.70" y2="424.03" stroke="#ee2222" stroke-width="2.05"/>
<line x1="301.70" y1="407.73" x2="301.70" y2="422.15" stroke="#ee2222" stroke-width="2.05"/>
<line x1="303.70" y1="405.49" x2="303.70" y2="415.70" stroke="#ee2222" stroke-width="2.05"/>
<line x1="305.70" y1="408.83" x2="305.70" y2="424.32" stroke="#ee2222" stroke-width="2.05"/>
<line x1="307.70" y1="406.64" x2="307.70" y2="419.34" stroke="#ee2222" stroke-width="2.05"/>
<line x1="309.70" y1="406.52" x2="309.70" y2="420.96" stroke="#ee2222" stroke-width="2.05"/>
<line x1="311.70" y1="401.84" x2="311.70" y2="419.57" stroke="#ee2222" stroke-width="2.05"/>
<line x1="313.70" y1="405.75" x2="313.70" y2="417.42" stroke="#ee2222" stroke-width="2.05"/>
<line x1="315.70" y1="402.21" x2="315.70" y2="416.91" stroke="#ee2222" stroke-width="2.05"/>
<line x1="317.70" y1="402.57" x2="317.70" y2="417.62" stroke="#ee2222" stroke-width="2.05"/>
<line x1="319.70" y1="402.33" x2="319.70" y2="416.46" stroke="#ee2222" stroke-width="2.05"/>
<line x1="321.70" y1="398.29" x2="321.70" y2="411.44" stroke="#ee2222" stroke-width="2.05"/>
<line x1="323.70" y1="397.65" x2="323.70" y2="417.09" stroke="#ee2222" stroke-width="2.05"/>
<line x1="325.70" y1="398.01" x2="325.70" y2="414.77" stroke="#ee2222" stroke-width="2.05"/>
<line x1="327.70" y1="396.07" x2="327.70" y2="414.60" stroke="#ee2222" stroke-width="2.05"/>
<line x1="329.70" y1="396.51" x2="329.70" y2="413.18" stroke="#ee2222" stroke-width="2.05"/>
<line x1="331.70" y1="390.54" x2="331.70" y2="407.48" stroke="#ee2222" stroke-width="2.05"/>
<line x1="333.70" y1="385.88" x2="333.70" y2="399.17" stroke="#ee2222" stroke-width="2.05"/>
<line x1="335.70" y1="384.57" x2="335.70" y2="400.54" stroke="#ee2222" stroke-width="2.05"/>
<line x1="337.70" y1="384.89" x2="337.70" y2="400.95" stroke="#ee2222" stroke-width="2.05"/>
<line x1="339.70" y1="382.04" x2="339.70" y2="401.65" stroke="#ee2222" stroke-width="2.05"/>
<line x1="341.70" y1="388.58" x2="341.70" y2="402.33" stroke="#ee2222" stroke-width="2.05"/>
<line x1="343.70" y1="381.31" x2="343.70" y2="395.79" stroke="#ee2222" stroke-width="2.05"/>
<line x1="345.70" y1="386.57" x2="345.70" y2="408.21" stroke="#ee2222" stroke-width="2.05"/>
<line x1="347.70" y1="378.92" x2="347.70" y2="399.69" stroke="#ee2222" stroke-width="2.05"/>
<line x1="349.70" y1="375.78" x2="349.70" y2="391.24" stroke="#ee2222" stroke-width="2.05"/>
<line x1="351.70" y1="375.58" x2="351.70" y2="393.65" stroke="#ee2222" stroke-width="2.05"/>
<line x1="353.70" y1="382.09" x2="353.70" y2="401.16" stroke="#ee2222" stroke-width="2.05"/>
<line x1="355.70" y1="387.25" x2="355.70" y2="405.43" stroke="#ee2222" stroke-width="2.05"/>
<line x1="357.70" y1="387.44" x2="357.70" y2="402.20" stroke="#ee2222" stroke-width="2.05"/>
<line x1="359.70" y1="388.96" x2="359.70" y2="407.51" stroke="#ee2222" stroke-width="2.05"/>
<line x1="361.70" y1="383.57" x2="361.70" y2="403.71" stroke="#ee2222" stroke-width="2.05"/>
<line x1="363.70" y1="380.03" x2="363.70" y2="396.55" stroke="#ee2222" stroke-width="2.05"/>
<line x1="365.70" y1="382.77" x2="365.70" y2="399.71" stroke="#ee2222" stroke-width="2.05"/>
<line x1="367.70" y1="382.17" x2="367.70" y2="403.77" stroke="#ee2222" stroke-width="2.05"/>
<line x1="369.70" y1="376.05" x2="369.70" y2="400.32" stroke="#ee2222" stroke-width="2.05"/>
<line x1="371.70" y1="380.94" x2="371.70" y2="396.00" stroke="#ee2222" stroke-width="2.05"/>
<line x1="373.70" y1="384.14" x2="373.70" y2="404.26" stroke="#ee2222" stroke-width="2.05"/>
<line x1="375.70" y1="382.40" x2="375.70" y2="400.93" stroke="#ee2222" stroke-width="2.05"/>
<line x1="377.70" y1="384.83" x2="377.70" y2="407.23" stroke="#ee2222" stroke-width="2.05"/>
<line x1="379.70" y1="384.53" x2="379.70" y2="403.17" stroke="#ee2222" stroke-width="2.05"/>
<line x1="381.70" y1="362.59" x2="381.70" y2="388.30" stroke="#ee2222" stroke-width="2.05"/>
<line x1="383.70" y1="374.25" x2="383.70" y2="400.68" stroke="#ee2222" stroke-width="2.05"/>
<line x1="385.70" y1="380.38" x2="385.70" y2="402.42" stroke="#ee2222" stroke-width="2.05"/>
<line x1="387.70" y1="367.33" x2="387.70" y2="390.75" stroke="#ee2222" stroke-width="2.05"/>
<line x1="389.70" y1="372.04" x2="389.70" y2="397.29" stroke="#ee2222" stroke-width="2.05"/>
<line x1="391.70" y1="370.61" x2="391.70" y2="394.35" stroke="#ee2222" stroke-width="2.05"/>
<line x1="393.70" y1="372.46" x2="393.70" y2="393.03" stroke="#ee2222" stroke-width="2.05"/>
<line x1="395.70" y1="356.77" x2="395.70" y2="380.39" stroke="#ee2222" stroke-width="2.05"/>
<line x1="397.70" y1="362.34" x2="397.70" y2="387.61" stroke="#ee2222" stroke-width="2.05"/>
<line x1="399.70" y1="371.21" x2="399.70" y2="393.16" stroke="#ee2222" stroke-width="2.05"/>
<line x1="401.70" y1="361.59" x2="401.70" y2="382.23" stroke="#ee2222" stroke-width="2.05"/>
<line x1="403.70" y1="359.79" x2="403.70" y2="384.82" stroke="#ee2222" stroke-width="2.05"/>
<line x1="405.70" y1="356.03" x2="405.70" y2="383.83" stroke="#ee2222" stroke-width="2.05"/>
<line x1="407.70" y1="358.93" x2="407.70" y2="382.74" stroke="#ee2222" stroke-width="2.05"/>
<line x1="409.70" y1="359.37" x2="409.70" y2="378.73" stroke="#ee2222" stroke-width="2.05"/>
<line x1="411.70" y1="354.12" x2="411.70" y2="381.07" stroke="#ee2222" stroke-width="2.05"/>
<line x1="413.70" y1="362.16" x2="413.70" y2="386.66" stroke="#ee2222" stroke-width="2.05"/>
<line x1="415.70" y1="354.68" x2="415.70" y2="385.10" stroke="#ee2222" stroke-width="2.05"/>
<line x1="417.70" y1="351.76" x2="417.70" y2="378.82" stroke="#ee2222" stroke-width="2.05"/>
<line x1="419.70" y1="363.37" x2="419.70" y2="385.61" stroke="#ee2222" stroke-width="2.05"/>
<line x1="421.70" y1="356.38" x2="421.70" y2="387.26" stroke="#ee2222" stroke-width="2.05"/>
<line x1="423.70" y1="361.14" x2="423.70" y2="382.21" stroke="#ee2222" stroke-width="2.05"/>
<line x1="425.70" y1="365.51" x2="425.70" y2="389.03" stroke="#ee2222" stroke-width="2.05"/>
<line x1="427.70" y1="354.93" x2="427.70" y2="381.87" stroke="#ee2222" stroke-width="2.05"/>
<line x1="429.70" y1="354.46" x2="429.70" y2="381.90" stroke="#ee2222" stroke-width="2.05"/>
<line x1="431.70" y1="355.69" x2="431.70" y2="374.58" stroke="#ee2222" stroke-width="2.05"/>
<line x1="433.70" y1="352.61" x2="433.70" y2="378.44" stroke="#ee2222" stroke-width="2.05"/>
<line x1="435.70" y1="357.57" x2="435.70" y2="385.18" stroke="#ee2222" stroke-width="2.05"/>
<line x1="437.70" y1="362.68" x2="437.70" y2="382.42" stroke="#ee2222" stroke-width="2.05"/>
<line x1="439.70" y1="351.69" x2="439.70" y2="379.42" stroke="#ee2222" stroke-width="2.05"/>
<line x1="441.70" y1="355.57" x2="441.70" y2="375.88" stroke="#ee2222" stroke-width="2.05"/>
<line x1="443.70" y1="352.95" x2="443.70" y2="382.98" stroke="#ee2222" stroke-width="2.05"/>
<line x1="445.70" y1="350.39" x2="445.70" y2="384.87" stroke="#ee2222" stroke-width="2.05"/>
<line x1="447.70" y1="350.41" x2="447.70" y2="375.29" stroke="#ee2222" stroke-width="2.05"/>
<line x1="449.70" y1="354.60" x2="449.70" y2="378.13" stroke="#ee2222" stroke-width="2.05"/>
<line x1="451.70" y1="349.70" x2="451.70" y2="374.61" stroke="#ee2222" stroke-width="2.05"/>
<line x1="453.70" y1="346.65" x2="453.70" y2="377.17" stroke="#ee2222" stroke-width="2.05"/>
<line x1="455.70" y1="350.80" x2="455.70" y2="381.24" stroke="#ee2222" stroke-width="2.05"/>
<line x1="457.70" y1="344.75" x2="457.70" y2="373.63" stroke="#ee2222" stroke-width="2.05"/>
<line x1="459.70" y1="342.36" x2="459.70" y2="367.65" stroke="#ee2222" stroke-width="2.05"/>
<line x1="461.70" y1="344.15" x2="461.70" y2="378.47" stroke="#ee2222" stroke-width="2.05"/>
<line x1="463.70" y1="341.75" x2="463.70" y2="377.62" stroke="#ee2222" stroke-width="2.05"/>
<line x1="465.70" y1="333.97" x2="465.70" y2="367.55" stroke="#ee2222" stroke-width="2.05"/>
<line x1="467.70" y1="339.54" x2="467.70" y2="374.61" stroke="#ee2222" stroke-width="2.05"/>
<line x1="469.70" y1="339.91" x2="469.70" y2="373.48" stroke="#ee2222" stroke-width="2.05"/>
<line x1="471.70" y1="332.18" x2="471.70" y2="371.73" stroke="#ee2222" stroke-width="2.05"/>
<line x1="473.70" y1="330.38" x2="473.70" y2="364.08" stroke="#ee2222" stroke-width="2.05"/>
<line x1="475.70" y1="337.20" x2="475.70" y2="369.92" stroke="#ee2222" stroke-width="2.05"/>
<line x1="477.70" y1="334.48" x2="477.70" y2="360.74" stroke="#ee2222" stroke-width="2.05"/>
<line x1="479.70" y1="342.42" x2="479.70" y2="368.77" stroke="#ee2222" stroke-width="2.05"/>
<line x1="481.70" y1="335.16" x2="481.70" y2="365.23" stroke="#ee2222" stroke-width="2.05"/>
<line x1="271.70" y1="425.13" x2="271.70" y2="438.39" stroke="#222" stroke-width="1.7"/>
<line x1="273.70" y1="427.45" x2="273.70" y2="437.44" stroke="#222" stroke-width="1.7"/>
<line x1="275.70" y1="426.68" x2="275.70" y2="441.90" stroke="#222" stroke-width="1.7"/>
<line x1="277.70" y1="422.12" x2="277.70" y2="437.11" stroke="#222" stroke-width="1.7"/>
<line x1="279.70" y1="423.25" x2="279.70" y2="435.48" stroke="#222" stroke-width="1.7"/>
<line x1="281.70" y1="423.87" x2="281.70" y2="437.38" stroke="#222" stroke-width="1.7"/>
<line x1="283.70" y1="422.69" x2="283.70" y2="437.98" stroke="#222" stroke-width="1.7"/>
<line x1="285.70" y1="424.90" x2="285.70" y2="437.26" stroke="#222" stroke-width="1.7"/>
<line x1="287.70" y1="419.44" x2="287.70" y2="433.53" stroke="#222" stroke-width="1.7"/>
<line x1="289.70" y1="423.23" x2="289.70" y2="439.37" stroke="#222" stroke-width="1.7"/>
<line x1="291.70" y1="421.69" x2="291.70" y2="435.96" stroke="#222" stroke-width="1.7"/>
<line x1="293.70" y1="420.37" x2="293.70" y2="432.93" stroke="#222" stroke-width="1.7"/>
<line x1="295.70" y1="417.29" x2="295.70" y2="432.56" stroke="#222" stroke-width="1.7"/>
<line x1="297.70" y1="419.91" x2="297.70" y2="434.65" stroke="#222" stroke-width="1.7"/>
<line x1="299.70" y1="419.54" x2="299.70" y2="433.94" stroke="#222" stroke-width="1.7"/>
<line x1="301.70" y1="417.88" x2="301.70" y2="436.75" stroke="#222" stroke-width="1.7"/>
<line x1="303.70" y1="421.01" x2="303.70" y2="433.83" stroke="#222" stroke-width="1.7"/>
<line x1="305.70" y1="414.30" x2="305.70" y2="432.73" stroke="#222" stroke-width="1.7"/>
<line x1="307.70" y1="422.12" x2="307.70" y2="436.35" stroke="#222" stroke-width="1.7"/>
<line x1="309.70" y1="415.81" x2="309.70" y2="431.36" stroke="#222" stroke-width="1.7"/>
<line x1="311.70" y1="419.36" x2="311.70" y2="431.94" stroke="#222" stroke-width="1.7"/>
<line x1="313.70" y1="417.17" x2="313.70" y2="432.76" stroke="#222" stroke-width="1.7"/>
<line x1="315.70" y1="421.29" x2="315.70" y2="436.16" stroke="#222" stroke-width="1.7"/>
<line x1="317.70" y1="415.84" x2="317.70" y2="429.82" stroke="#222" stroke-width="1.7"/>
<line x1="319.70" y1="416.19" x2="319.70" y2="431.97" stroke="#222" stroke-width="1.7"/>
<line x1="321.70" y1="414.88" x2="321.70" y2="429.88" stroke="#222" stroke-width="1.7"/>
<line x1="323.70" y1="418.52" x2="323.70" y2="433.89" stroke="#222" stroke-width="1.7"/>
<line x1="325.70" y1="414.68" x2="325.70" y2="431.89" stroke="#222" stroke-width="1.7"/>
<line x1="327.70" y1="410.77" x2="327.70" y2="427.71" stroke="#222" stroke-width="1.7"/>
<line x1="329.70" y1="415.86" x2="329.70" y2="435.37" stroke="#222" stroke-width="1.7"/>
<line x1="331.70" y1="413.07" x2="331.70" y2="431.07" stroke="#222" stroke-width="1.7"/>
<line x1="333.70" y1="416.11" x2="333.70" y2="434.14" stroke="#222" stroke-width="1.7"/>
<line x1="335.70" y1="413.12" x2="335.70" y2="429.94" stroke="#222" stroke-width="1.7"/>
<line x1="337.70" y1="414.37" x2="337.70" y2="428.01" stroke="#222" stroke-width="1.7"/>
<line x1="339.70" y1="408.70" x2="339.70" y2="425.51" stroke="#222" stroke-width="1.7"/>
<line x1="341.70" y1="413.88" x2="341.70" y2="431.77" stroke="#222" stroke-width="1.7"/>
<line x1="343.70" y1="407.74" x2="343.70" y2="428.58" stroke="#222" stroke-width="1.7"/>
<line x1="345.70" y1="407.06" x2="345.70" y2="425.20" stroke="#222" stroke-width="1.7"/>
<line x1="347.70" y1="413.57" x2="347.70" y2="432.44" stroke="#222" stroke-width="1.7"/>
<line x1="349.70" y1="410.64" x2="349.70" y2="424.37" stroke="#222" stroke-width="1.7"/>
<line x1="351.70" y1="407.30" x2="351.70" y2="425.75" stroke="#222" stroke-width="1.7"/>
<line x1="353.70" y1="407.19" x2="353.70" y2="423.75" stroke="#222" stroke-width="1.7"/>
<line x1="355.70" y1="405.24" x2="355.70" y2="428.40" stroke="#222" stroke-width="1.7"/>
<line x1="357.70" y1="403.70" x2="357.70" y2="422.30" stroke="#222" stroke-width="1.7"/>
<line x1="359.70" y1="402.08" x2="359.70" y2="422.02" stroke="#222" stroke-width="1.7"/>
<line x1="361.70" y1="406.18" x2="361.70" y2="423.69" stroke="#222" stroke-width="1.7"/>
<line x1="363.70" y1="409.49" x2="363.70" y2="426.05" stroke="#222" stroke-width="1.7"/>
<line x1="365.70" y1="406.33" x2="365.70" y2="428.61" stroke="#222" stroke-width="1.7"/>
<line x1="367.70" y1="404.54" x2="367.70" y2="424.54" stroke="#222" stroke-width="1.7"/>
<line x1="369.70" y1="406.36" x2="369.70" y2="421.71" stroke="#222" stroke-width="1.7"/>
<line x1="371.70" y1="404.95" x2="371.70" y2="428.61" stroke="#222" stroke-width="1.7"/>
<line x1="373.70" y1="405.15" x2="373.70" y2="428.17" stroke="#222" stroke-width="1.7"/>
<line x1="375.70" y1="407.00" x2="375.70" y2="427.31" stroke="#222" stroke-width="1.7"/>
<line x1="377.70" y1="404.16" x2="377.70" y2="428.89" stroke="#222" stroke-width="1.7"/>
<line x1="379.70" y1="403.51" x2="379.70" y2="426.74" stroke="#222" stroke-width="1.7"/>
<line x1="381.70" y1="396.63" x2="381.70" y2="418.09" stroke="#222" stroke-width="1.7"/>
<line x1="383.70" y1="398.27" x2="383.70" y2="421.42" stroke="#222" stroke-width="1.7"/>
<line x1="385.70" y1="404.68" x2="385.70" y2="426.10" stroke="#222" stroke-width="1.7"/>
<line x1="387.70" y1="403.93" x2="387.70" y2="423.15" stroke="#222" stroke-width="1.7"/>
<line x1="389.70" y1="406.41" x2="389.70" y2="422.86" stroke="#222" stroke-width="1.7"/>
<line x1="391.70" y1="405.83" x2="391.70" y2="427.71" stroke="#222" stroke-width="1.7"/>
<line x1="393.70" y1="402.93" x2="393.70" y2="423.81" stroke="#222" stroke-width="1.7"/>
<line x1="395.70" y1="402.38" x2="395.70" y2="422.85" stroke="#222" stroke-width="1.7"/>
<line x1="397.70" y1="399.79" x2="397.70" y2="425.20" stroke="#222" stroke-width="1.7"/>
<line x1="399.70" y1="397.93" x2="399.70" y2="419.20" stroke="#222" stroke-width="1.7"/>
<line x1="401.70" y1="402.72" x2="401.70" y2="426.50" stroke="#222" stroke-width="1.7"/>
<line x1="403.70" y1="402.08" x2="403.70" y2="418.46" stroke="#222" stroke-width="1.7"/>
<line x1="405.70" y1="396.71" x2="405.70" y2="414.74" stroke="#222" stroke-width="1.7"/>
<line x1="407.70" y1="397.23" x2="407.70" y2="419.41" stroke="#222" stroke-width="1.7"/>
<line x1="409.70" y1="387.87" x2="409.70" y2="413.50" stroke="#222" stroke-width="1.7"/>
<line x1="411.70" y1="389.97" x2="411.70" y2="411.22" stroke="#222" stroke-width="1.7"/>
<line x1="413.70" y1="394.30" x2="413.70" y2="418.99" stroke="#222" stroke-width="1.7"/>
<line x1="415.70" y1="390.75" x2="415.70" y2="410.45" stroke="#222" stroke-width="1.7"/>
<line x1="417.70" y1="393.84" x2="417.70" y2="413.90" stroke="#222" stroke-width="1.7"/>
<line x1="419.70" y1="389.80" x2="419.70" y2="414.99" stroke="#222" stroke-width="1.7"/>
<line x1="421.70" y1="391.86" x2="421.70" y2="415.47" stroke="#222" stroke-width="1.7"/>
<line x1="423.70" y1="390.93" x2="423.70" y2="415.33" stroke="#222" stroke-width="1.7"/>
<line x1="425.70" y1="389.86" x2="425.70" y2="412.83" stroke="#222" stroke-width="1.7"/>
<line x1="427.70" y1="391.01" x2="427.70" y2="408.90" stroke="#222" stroke-width="1.7"/>
<line x1="429.70" y1="390.39" x2="429.70" y2="412.98" stroke="#222" stroke-width="1.7"/>
<line x1="431.70" y1="389.94" x2="431.70" y2="411.81" stroke="#222" stroke-width="1.7"/>
<line x1="433.70" y1="379.79" x2="433.70" y2="410.25" stroke="#222" stroke-width="1.7"/>
<line x1="435.70" y1="381.80" x2="435.70" y2="404.74" stroke="#222" stroke-width="1.7"/>
<line x1="437.70" y1="379.50" x2="437.70" y2="404.91" stroke="#222" stroke-width="1.7"/>
<line x1="439.70" y1="389.09" x2="439.70" y2="414.44" stroke="#222" stroke-width="1.7"/>
<line x1="441.70" y1="381.50" x2="441.70" y2="411.60" stroke="#222" stroke-width="1.7"/>
<line x1="443.70" y1="383.74" x2="443.70" y2="408.52" stroke="#222" stroke-width="1.7"/>
<line x1="445.70" y1="386.16" x2="445.70" y2="404.72" stroke="#222" stroke-width="1.7"/>
<line x1="447.70" y1="384.26" x2="447.70" y2="409.55" stroke="#222" stroke-width="1.7"/>
<line x1="449.70" y1="382.53" x2="449.70" y2="404.89" stroke="#222" stroke-width="1.7"/>
<line x1="451.70" y1="381.40" x2="451.70" y2="408.51" stroke="#222" stroke-width="1.7"/>
<line x1="453.70" y1="377.87" x2="453.70" y2="410.18" stroke="#222" stroke-width="1.7"/>
<line x1="455.70" y1="382.93" x2="455.70" y2="407.95" stroke="#222" stroke-width="1.7"/>
<line x1="457.70" y1="378.51" x2="457.70" y2="406.87" stroke="#222" stroke-width="1.7"/>
<line x1="459.70" y1="377.92" x2="459.70" y2="405.15" stroke="#222" stroke-width="1.7"/>
<line x1="461.70" y1="375.03" x2="461.70" y2="402.19" stroke="#222" stroke-width="1.7"/>
<line x1="463.70" y1="378.54" x2="463.70" y2="405.88" stroke="#222" stroke-width="1.7"/>
<line x1="465.70" y1="374.03" x2="465.70" y2="406.11" stroke="#222" stroke-width="1.7"/>
<line x1="467.70" y1="375.97" x2="467.70" y2="399.24" stroke="#222" stroke-width="1.7"/>
<line x1="469.70" y1="372.95" x2="469.70" y2="396.59" stroke="#222" stroke-width="1.7"/>
<line x1="471.70" y1="377.77" x2="471.70" y2="401.83" stroke="#222" stroke-width="1.7"/>
<line x1="473.70" y1="372.37" x2="473.70" y2="400.03" stroke="#222" stroke-width="1.7"/>
<line x1="475.70" y1="376.03" x2="475.70" y2="398.60" stroke="#222" stroke-width="1.7"/>
<line x1="477.70" y1="366.51" x2="477.70" y2="397.82" stroke="#222" stroke-width="1.7"/>
<line x1="479.70" y1="365.94" x2="479.70" y2="396.14" stroke="#222" stroke-width="1.7"/>
<line x1="481.70" y1="365.89" x2="481.70" y2="392.42" stroke="#222" stroke-width="1.7"/>
<line x1="270.70" y1="425.10" x2="481.70" y2="352.66" stroke="#c01818" stroke-width="0.6" />
<line x1="270.70" y1="431.33" x2="481.70" y2="385.48" stroke="#000" stroke-width="0.6" />
<line x1="270.70" y1="314.8" x2="270.70" y2="456.80" stroke="#555" stroke-width="1.1"/>
<line x1="270.70" y1="456.80" x2="484.7" y2="456.80" stroke="#555" stroke-width="1.1"/>
<line x1="269.50" y1="456.80" x2="270.70" y2="456.80" stroke="#555" stroke-width="1.0" />
<text x="269.30" y="459.75" font-size="8.3" text-anchor="end" font-weight="bold" font-style="normal" font-family="Liberation Sans, sans-serif" fill="#111" >0</text>
<line x1="269.50" y1="428.50" x2="270.70" y2="428.50" stroke="#555" stroke-width="1.0" />
<text x="269.30" y="431.45" font-size="8.3" text-anchor="end" font-weight="bold" font-style="normal" font-family="Liberation Sans, sans-serif" fill="#111" >5</text>
<line x1="269.50" y1="400.20" x2="270.70" y2="400.20" stroke="#555" stroke-width="1.0" />
<text x="269.30" y="403.15" font-size="8.3" text-anchor="end" font-weight="bold" font-style="normal" font-family="Liberation Sans, sans-serif" fill="#111" >10</text>
<line x1="269.50" y1="371.90" x2="270.70" y2="371.90" stroke="#555" stroke-width="1.0" />
<text x="269.30" y="374.85" font-size="8.3" text-anchor="end" font-weight="bold" font-style="normal" font-family="Liberation Sans, sans-serif" fill="#111" >15</text>
<line x1="269.50" y1="343.60" x2="270.70" y2="343.60" stroke="#555" stroke-width="1.0" />
<text x="269.30" y="346.55" font-size="8.3" text-anchor="end" font-weight="bold" font-style="normal" font-family="Liberation Sans, sans-serif" fill="#111" >20</text>
<line x1="269.50" y1="315.30" x2="270.70" y2="315.30" stroke="#555" stroke-width="1.0" />
<text x="269.30" y="318.25" font-size="8.3" text-anchor="end" font-weight="bold" font-style="normal" font-family="Liberation Sans, sans-serif" fill="#111" >25</text>
<line x1="270.70" y1="456.80" x2="270.70" y2="458.30" stroke="#555" stroke-width="1.0" />
<text x="270.70" y="465.50" font-size="8.3" text-anchor="middle" font-weight="bold" font-style="normal" font-family="Liberation Sans, sans-serif" fill="#111" >0</text>
<line x1="300.70" y1="456.80" x2="300.70" y2="458.30" stroke="#555" stroke-width="1.0" />
<text x="300.70" y="465.50" font-size="8.3" text-anchor="middle" font-weight="bold" font-style="normal" font-family="Liberation Sans, sans-serif" fill="#111" >30</text>
<line x1="330.70" y1="456.80" x2="330.70" y2="458.30" stroke="#555" stroke-width="1.0" />
<text x="330.70" y="465.50" font-size="8.3" text-anchor="middle" font-weight="bold" font-style="normal" font-family="Liberation Sans, sans-serif" fill="#111" >60</text>
<line x1="360.70" y1="456.80" x2="360.70" y2="458.30" stroke="#555" stroke-width="1.0" />
<text x="360.70" y="465.50" font-size="8.3" text-anchor="middle" font-weight="bold" font-style="normal" font-family="Liberation Sans, sans-serif" fill="#111" >90</text>
<line x1="390.70" y1="456.80" x2="390.70" y2="458.30" stroke="#555" stroke-width="1.0" />
<text x="390.70" y="465.50" font-size="8.3" text-anchor="middle" font-weight="bold" font-style="normal" font-family="Liberation Sans, sans-serif" fill="#111" >120</text>
<line x1="420.70" y1="456.80" x2="420.70" y2="458.30" stroke="#555" stroke-width="1.0" />
<text x="420.70" y="465.50" font-size="8.3" text-anchor="middle" font-weight="bold" font-style="normal" font-family="Liberation Sans, sans-serif" fill="#111" >150</text>
<line x1="450.70" y1="456.80" x2="450.70" y2="458.30" stroke="#555" stroke-width="1.0" />
<text x="450.70" y="465.50" font-size="8.3" text-anchor="middle" font-weight="bold" font-style="normal" font-family="Liberation Sans, sans-serif" fill="#111" >180</text>
<line x1="480.70" y1="456.80" x2="480.70" y2="458.30" stroke="#555" stroke-width="1.0" />
<text x="480.70" y="465.50" font-size="8.3" text-anchor="middle" font-weight="bold" font-style="normal" font-family="Liberation Sans, sans-serif" fill="#111" >210</text>
<line x1="277.90" y1="319.70" x2="284.10" y2="319.70" stroke="#f0a4a4" stroke-width="1.1" />
<text x="286.40" y="322.60" font-size="7.6" text-anchor="start" font-weight="normal" font-style="italic" font-family="Liberation Sans, sans-serif" fill="#222" >Phenol red</text>
<line x1="277.90" y1="328.50" x2="284.10" y2="328.50" stroke="#555" stroke-width="1.1" />
<text x="286.60" y="330.90" font-size="7.6" text-anchor="start" font-weight="normal" font-style="italic" font-family="Liberation Sans, sans-serif" fill="#222" >da-hif-1&#945;b</text>
<text x="0" y="0" transform="translate(254.30,383.80) rotate(-90)" font-size="7.8" text-anchor="middle" dominant-baseline="central" font-weight="bold" font-style="normal" font-family="Liberation Sans, sans-serif" fill="#000">Neutrophils moved away from injury site</text>
<text x="377.30" y="473.30" font-size="7.8" text-anchor="middle" font-weight="bold" font-style="normal" font-family="Liberation Sans, sans-serif" fill="#000" >Minutes after photoconversion</text>
<text x="464.90" y="451.40" font-size="6.6" text-anchor="middle" font-weight="normal" font-style="normal" font-family="Liberation Sans, sans-serif" fill="#222" >p&lt;0.0001</text>
<text x="15.90" y="493.30" font-size="17.5" text-anchor="start" font-weight="bold" font-style="normal" font-family="Liberation Sans, sans-serif" fill="#000" >G</text>
<rect x="13.90" y="502.10" width="9.30" height="4.40" fill="#fff" stroke="#000" stroke-width="1.2"/>
<text x="28.00" y="506.60" font-size="6.9" text-anchor="start" font-weight="normal" font-style="normal" font-family="Liberation Sans, sans-serif" fill="#000" >DMSO</text>
<rect x="13.90" y="511.90" width="9.30" height="4.60" fill="#000" stroke="#000" stroke-width="1.2"/>
<text x="28.00" y="516.30" font-size="6.9" text-anchor="start" font-weight="normal" font-style="normal" font-family="Liberation Sans, sans-serif" fill="#000" >DMOG</text>
<line x1="60.90" y1="523.00" x2="60.90" y2="606.20" stroke="#000" stroke-width="1.4" />
<line x1="58.30" y1="605.50" x2="60.90" y2="605.50" stroke="#000" stroke-width="1.26" />
<text x="57.30" y="608.13" font-size="6.5" text-anchor="end" font-weight="normal" font-style="normal" font-family="Liberation Sans, sans-serif" fill="#111" >0</text>
<line x1="58.30" y1="589.10" x2="60.90" y2="589.10" stroke="#000" stroke-width="1.26" />
<text x="57.30" y="591.73" font-size="6.5" text-anchor="end" font-weight="normal" font-style="normal" font-family="Liberation Sans, sans-serif" fill="#111" >5</text>
<line x1="58.30" y1="572.70" x2="60.90" y2="572.70" stroke="#000" stroke-width="1.26" />
<text x="57.30" y="575.33" font-size="6.5" text-anchor="end" font-weight="normal" font-style="normal" font-family="Liberation Sans, sans-serif" fill="#111" >10</text>
<line x1="58.30" y1="556.30" x2="60.90" y2="556.30" stroke="#000" stroke-width="1.26" />
<text x="57.30" y="558.93" font-size="6.5" text-anchor="end" font-weight="normal" font-style="normal" font-family="Liberation Sans, sans-serif" fill="#111" >15</text>
<line x1="58.30" y1="539.90" x2="60.90" y2="539.90" stroke="#000" stroke-width="1.26" />
<text x="57.30" y="542.53" font-size="6.5" text-anchor="end" font-weight="normal" font-style="normal" font-family="Liberation Sans, sans-serif" fill="#111" >20</text>
<line x1="58.30" y1="523.50" x2="60.90" y2="523.50" stroke="#000" stroke-width="1.26" />
<text x="57.30" y="526.13" font-size="6.5" text-anchor="end" font-weight="normal" font-style="normal" font-family="Liberation Sans, sans-serif" fill="#111" >25</text>
<line x1="60.20" y1="605.50" x2="194.30" y2="605.50" stroke="#000" stroke-width="1.4" />
<line x1="69.50" y1="605.50" x2="69.50" y2="608.50" stroke="#000" stroke-width="1.26" />
<line x1="84.85" y1="605.50" x2="84.85" y2="608.50" stroke="#000" stroke-width="1.26" />
<line x1="99.85" y1="605.50" x2="99.85" y2="608.50" stroke="#000" stroke-width="1.26" />
<line x1="127.45" y1="605.50" x2="127.45" y2="608.50" stroke="#000" stroke-width="1.26" />
<line x1="142.70" y1="605.50" x2="142.70" y2="608.50" stroke="#000" stroke-width="1.26" />
<line x1="157.85" y1="605.50" x2="157.85" y2="608.50" stroke="#000" stroke-width="1.26" />
<line x1="185.50" y1="605.50" x2="185.50" y2="608.50" stroke="#000" stroke-width="1.26" />
<line x1="69.50" y1="576.60" x2="69.50" y2="579.92" stroke="#000" stroke-width="1.3" />
<line x1="65.90" y1="576.60" x2="73.10" y2="576.60" stroke="#000" stroke-width="1.3" />
<rect x="63.50" y="579.92" width="12.00" height="25.58" fill="#fff" stroke="#000" stroke-width="1.3"/>
<line x1="84.85" y1="565.40" x2="84.85" y2="569.09" stroke="#000" stroke-width="1.3" />
<line x1="81.04" y1="565.40" x2="88.66" y2="565.40" stroke="#000" stroke-width="1.3" />
<rect x="78.50" y="569.09" width="12.70" height="36.41" fill="#000" stroke="#000" stroke-width="1.3"/>
<line x1="99.85" y1="540.00" x2="99.85" y2="544.49" stroke="#000" stroke-width="1.3" />
<line x1="96.04" y1="540.00" x2="103.66" y2="540.00" stroke="#000" stroke-width="1.3" />
<rect x="93.50" y="544.49" width="12.70" height="61.01" fill="#fff" stroke="#000" stroke-width="1.3"/>
<line x1="127.45" y1="538.30" x2="127.45" y2="544.82" stroke="#000" stroke-width="1.3" />
<line x1="123.76" y1="538.30" x2="131.14" y2="538.30" stroke="#000" stroke-width="1.3" />
<rect x="121.30" y="544.82" width="12.30" height="60.68" fill="#fff" stroke="#000" stroke-width="1.3"/>
<line x1="142.70" y1="549.30" x2="142.70" y2="554.66" stroke="#000" stroke-width="1.3" />
<line x1="139.04" y1="549.30" x2="146.36" y2="549.30" stroke="#000" stroke-width="1.3" />
<rect x="136.60" y="554.66" width="12.20" height="50.84" fill="#fff" stroke="#000" stroke-width="1.3"/>
<line x1="157.85" y1="548.30" x2="157.85" y2="551.38" stroke="#000" stroke-width="1.3" />
<line x1="153.98" y1="548.30" x2="161.72" y2="548.30" stroke="#000" stroke-width="1.3" />
<rect x="151.40" y="551.38" width="12.90" height="54.12" fill="#fff" stroke="#000" stroke-width="1.3"/>
<line x1="185.50" y1="576.20" x2="185.50" y2="579.59" stroke="#000" stroke-width="1.3" />
<line x1="181.90" y1="576.20" x2="189.10" y2="576.20" stroke="#000" stroke-width="1.3" />
<rect x="179.50" y="579.59" width="12.00" height="25.91" fill="#fff" stroke="#000" stroke-width="1.3"/>
<path d="M70.00,496.20 L70.00,494.00 L188.40,494.00 L188.40,496.20" fill="none" stroke="#777" stroke-width="0.9"/>
<path d="M70.00,507.70 L70.00,505.50 L145.20,505.50 L145.20,507.70" fill="none" stroke="#777" stroke-width="0.9"/>
<path d="M70.00,517.60 L70.00,515.40 L128.70,515.40 L128.70,517.60" fill="none" stroke="#777" stroke-width="0.9"/>
<path d="M70.00,527.20 L70.00,525.00 L102.70,525.00 L102.70,527.20" fill="none" stroke="#777" stroke-width="0.9"/>
<text x="127.00" y="491.40" font-size="7.8" text-anchor="middle" font-weight="normal" font-style="normal" font-family="Liberation Sans, sans-serif" fill="#222" >ns</text>
<circle cx="106.20" cy="500.60" r="1.1" fill="#111"/>
<circle cx="97.15" cy="513.20" r="1.1" fill="#111"/>
<circle cx="100.20" cy="513.20" r="1.1" fill="#111"/>
<circle cx="103.25" cy="513.20" r="1.1" fill="#111"/>
<circle cx="82.45" cy="522.20" r="1.1" fill="#111"/>
<circle cx="85.50" cy="522.20" r="1.1" fill="#111"/>
<circle cx="88.55" cy="522.20" r="1.1" fill="#111"/>
<text x="0" y="0" transform="translate(46.40,564.20) rotate(-90)" font-size="6.4" text-anchor="middle" dominant-baseline="central" font-weight="bold" font-style="normal" font-family="Liberation Sans, sans-serif" fill="#000">neutrophil count</text>
<text x="5.6" y="617.00" font-size="6.6" font-family="Liberation Mono, monospace" fill="#2a2a2a" xml:space="preserve"><tspan font-style="italic" font-weight="bold" fill="#333">hif-1&#945;b</tspan> P402A:</text>
<line x1="69.50" y1="615.50" x2="72.50" y2="615.50" stroke="#2a2a2a" stroke-width="1.0" />
<line x1="85.60" y1="615.50" x2="88.60" y2="615.50" stroke="#2a2a2a" stroke-width="1.0" />
<line x1="101.00" y1="615.50" x2="104.00" y2="615.50" stroke="#2a2a2a" stroke-width="1.0" />
<line x1="102.50" y1="614.00" x2="102.50" y2="617.00" stroke="#2a2a2a" stroke-width="1.0" />
<line x1="128.60" y1="615.50" x2="131.60" y2="615.50" stroke="#2a2a2a" stroke-width="1.0" />
<line x1="130.10" y1="614.00" x2="130.10" y2="617.00" stroke="#2a2a2a" stroke-width="1.0" />
<line x1="144.50" y1="615.50" x2="147.50" y2="615.50" stroke="#2a2a2a" stroke-width="1.0" />
<line x1="160.10" y1="615.50" x2="163.10" y2="615.50" stroke="#2a2a2a" stroke-width="1.0" />
<line x1="161.60" y1="614.00" x2="161.60" y2="617.00" stroke="#2a2a2a" stroke-width="1.0" />
<line x1="183.80" y1="615.50" x2="186.80" y2="615.50" stroke="#2a2a2a" stroke-width="1.0" />
<text x="5.6" y="625.70" font-size="6.6" font-family="Liberation Mono, monospace" fill="#2a2a2a" xml:space="preserve"><tspan font-style="italic" font-weight="bold" fill="#333">hif-1&#945;b</tspan> P564G:</text>
<line x1="69.50" y1="624.25" x2="72.50" y2="624.25" stroke="#2a2a2a" stroke-width="1.0" />
<line x1="85.60" y1="624.25" x2="88.60" y2="624.25" stroke="#2a2a2a" stroke-width="1.0" />
<line x1="101.00" y1="624.25" x2="104.00" y2="624.25" stroke="#2a2a2a" stroke-width="1.0" />
<line x1="102.50" y1="622.75" x2="102.50" y2="625.75" stroke="#2a2a2a" stroke-width="1.0" />
<line x1="128.60" y1="624.25" x2="131.60" y2="624.25" stroke="#2a2a2a" stroke-width="1.0" />
<line x1="144.50" y1="624.25" x2="147.50" y2="624.25" stroke="#2a2a2a" stroke-width="1.0" />
<line x1="146.00" y1="622.75" x2="146.00" y2="625.75" stroke="#2a2a2a" stroke-width="1.0" />
<line x1="160.10" y1="624.25" x2="163.10" y2="624.25" stroke="#2a2a2a" stroke-width="1.0" />
<line x1="161.60" y1="622.75" x2="161.60" y2="625.75" stroke="#2a2a2a" stroke-width="1.0" />
<line x1="183.80" y1="624.25" x2="186.80" y2="624.25" stroke="#2a2a2a" stroke-width="1.0" />
<text x="5.6" y="634.40" font-size="6.6" font-family="Liberation Mono, monospace" fill="#2a2a2a" xml:space="preserve"><tspan font-style="italic" font-weight="bold" fill="#333">hif-1&#945;b</tspan> N804A:</text>
<line x1="69.50" y1="633.00" x2="72.50" y2="633.00" stroke="#2a2a2a" stroke-width="1.0" />
<line x1="85.60" y1="633.00" x2="88.60" y2="633.00" stroke="#2a2a2a" stroke-width="1.0" />
<line x1="101.00" y1="633.00" x2="104.00" y2="633.00" stroke="#2a2a2a" stroke-width="1.0" />
<line x1="102.50" y1="631.50" x2="102.50" y2="634.50" stroke="#2a2a2a" stroke-width="1.0" />
<line x1="128.60" y1="633.00" x2="131.60" y2="633.00" stroke="#2a2a2a" stroke-width="1.0" />
<line x1="144.50" y1="633.00" x2="147.50" y2="633.00" stroke="#2a2a2a" stroke-width="1.0" />
<line x1="160.10" y1="633.00" x2="163.10" y2="633.00" stroke="#2a2a2a" stroke-width="1.0" />
<line x1="183.80" y1="633.00" x2="186.80" y2="633.00" stroke="#2a2a2a" stroke-width="1.0" />
<line x1="185.30" y1="631.50" x2="185.30" y2="634.50" stroke="#2a2a2a" stroke-width="1.0" />
<text x="197.20" y="495.40" font-size="17.5" text-anchor="start" font-weight="bold" font-style="normal" font-family="Liberation Sans, sans-serif" fill="#000" >H</text>
<line x1="224.70" y1="516.80" x2="224.70" y2="606.70" stroke="#000" stroke-width="1.4" />
<line x1="222.10" y1="606.00" x2="224.70" y2="606.00" stroke="#000" stroke-width="1.26" />
<text x="221.10" y="608.63" font-size="6.5" text-anchor="end" font-weight="normal" font-style="normal" font-family="Liberation Sans, sans-serif" fill="#111" >0</text>
<line x1="222.10" y1="591.22" x2="224.70" y2="591.22" stroke="#000" stroke-width="1.26" />
<text x="221.10" y="593.84" font-size="6.5" text-anchor="end" font-weight="normal" font-style="normal" font-family="Liberation Sans, sans-serif" fill="#111" >2</text>
<line x1="222.10" y1="576.43" x2="224.70" y2="576.43" stroke="#000" stroke-width="1.26" />
<text x="221.10" y="579.06" font-size="6.5" text-anchor="end" font-weight="normal" font-style="normal" font-family="Liberation Sans, sans-serif" fill="#111" >4</text>
<line x1="222.10" y1="561.65" x2="224.70" y2="561.65" stroke="#000" stroke-width="1.26" />
<text x="221.10" y="564.28" font-size="6.5" text-anchor="end" font-weight="normal" font-style="normal" font-family="Liberation Sans, sans-serif" fill="#111" >6</text>
<line x1="222.10" y1="546.87" x2="224.70" y2="546.87" stroke="#000" stroke-width="1.26" />
<text x="221.10" y="549.49" font-size="6.5" text-anchor="end" font-weight="normal" font-style="normal" font-family="Liberation Sans, sans-serif" fill="#111" >8</text>
<line x1="222.10" y1="532.08" x2="224.70" y2="532.08" stroke="#000" stroke-width="1.26" />
<text x="221.10" y="534.71" font-size="6.5" text-anchor="end" font-weight="normal" font-style="normal" font-family="Liberation Sans, sans-serif" fill="#111" >10</text>
<line x1="222.10" y1="517.30" x2="224.70" y2="517.30" stroke="#000" stroke-width="1.26" />
<text x="221.10" y="519.93" font-size="6.5" text-anchor="end" font-weight="normal" font-style="normal" font-family="Liberation Sans, sans-serif" fill="#111" >12</text>
<line x1="224.00" y1="606.00" x2="350.10" y2="606.00" stroke="#000" stroke-width="1.4" />
<line x1="257.75" y1="606.00" x2="257.75" y2="609.00" stroke="#000" stroke-width="1.26" />
<line x1="324.20" y1="606.00" x2="324.20" y2="609.00" stroke="#000" stroke-width="1.26" />
<line x1="257.75" y1="560.00" x2="257.75" y2="563.90" stroke="#000" stroke-width="1.3" />
<line x1="246.38" y1="560.00" x2="269.12" y2="560.00" stroke="#000" stroke-width="1.3" />
<rect x="235.00" y="563.90" width="45.50" height="42.10" fill="#fff" stroke="#000" stroke-width="1.3"/>
<line x1="324.15" y1="528.90" x2="324.15" y2="536.40" stroke="#000" stroke-width="1.3" />
<line x1="313.12" y1="528.90" x2="335.17" y2="528.90" stroke="#000" stroke-width="1.3" />
<rect x="302.10" y="536.40" width="44.10" height="69.60" fill="#fff" stroke="#000" stroke-width="1.3"/>
<path d="M255.40,512.80 L255.40,510.60 L320.70,510.60 L320.70,512.80" fill="none" stroke="#777" stroke-width="0.9"/>
<circle cx="284.95" cy="507.10" r="1.1" fill="#111"/>
<circle cx="288.00" cy="507.10" r="1.1" fill="#111"/>
<circle cx="291.05" cy="507.10" r="1.1" fill="#111"/>
<text x="0" y="0" transform="translate(209.60,560.00) rotate(-90)" font-size="7.0" text-anchor="middle" dominant-baseline="central" font-weight="bold" font-style="normal" font-family="Liberation Sans, sans-serif" fill="#000">neutrophil count</text>
<text x="258.00" y="616.30" font-size="6.8" text-anchor="middle" font-weight="normal" font-style="normal" font-family="Liberation Sans, sans-serif" fill="#000" >Wildtype</text>
<text x="323.80" y="616.30" font-size="6.8" text-anchor="middle" font-weight="normal" font-style="normal" font-family="Liberation Sans, sans-serif" fill="#000" >DA-Hif-1&#945;b</text>
<text x="291.10" y="627.90" font-size="7.3" text-anchor="middle" font-weight="normal" font-style="normal" font-family="Liberation Sans, sans-serif" fill="#000" >Genotype</text>
<text x="352.4" y="496.6" font-size="17.5" font-weight="bold" font-family="Liberation Sans, sans-serif" fill="#000" stroke="#000" stroke-width="0.7">I</text>
<text x="414.20" y="498.20" font-size="12.5" text-anchor="start" font-weight="normal" font-style="normal" font-family="Liberation Sans, sans-serif" fill="#000" >Apoptosis</text>
<line x1="379.00" y1="514.60" x2="379.00" y2="606.20" stroke="#000" stroke-width="1.4" />
<line x1="376.40" y1="605.50" x2="379.00" y2="605.50" stroke="#000" stroke-width="1.26" />
<text x="375.40" y="608.13" font-size="6.5" text-anchor="end" font-weight="normal" font-style="normal" font-family="Liberation Sans, sans-serif" fill="#111" >0</text>
<line x1="376.40" y1="575.37" x2="379.00" y2="575.37" stroke="#000" stroke-width="1.26" />
<text x="375.40" y="577.99" font-size="6.5" text-anchor="end" font-weight="normal" font-style="normal" font-family="Liberation Sans, sans-serif" fill="#111" >1</text>
<line x1="376.40" y1="545.23" x2="379.00" y2="545.23" stroke="#000" stroke-width="1.26" />
<text x="375.40" y="547.86" font-size="6.5" text-anchor="end" font-weight="normal" font-style="normal" font-family="Liberation Sans, sans-serif" fill="#111" >2</text>
<line x1="376.40" y1="515.10" x2="379.00" y2="515.10" stroke="#000" stroke-width="1.26" />
<text x="375.40" y="517.73" font-size="6.5" text-anchor="end" font-weight="normal" font-style="normal" font-family="Liberation Sans, sans-serif" fill="#111" >3</text>
<line x1="378.30" y1="605.50" x2="515.10" y2="605.50" stroke="#000" stroke-width="1.4" />
<line x1="413.70" y1="605.50" x2="413.70" y2="608.50" stroke="#000" stroke-width="1.26" />
<line x1="481.90" y1="605.50" x2="481.90" y2="608.50" stroke="#000" stroke-width="1.26" />
<path d="M413.70,510.90 L413.70,508.70 L483.60,508.70 L483.60,510.90" fill="none" stroke="#777" stroke-width="0.9"/>
<circle cx="444.85" cy="504.80" r="1.1" fill="#111"/>
<circle cx="447.90" cy="504.80" r="1.1" fill="#111"/>
<circle cx="450.95" cy="504.80" r="1.1" fill="#111"/>
<text x="0" y="0" transform="translate(366.50,559.70) rotate(-90)" font-size="7.6" text-anchor="middle" dominant-baseline="central" font-weight="normal" font-style="normal" font-family="Liberation Sans, sans-serif" fill="#000">Percentage neutrophil  apoptosis</text>
<line x1="391.70" y1="534.60" x2="435.60" y2="534.60" stroke="#000" stroke-width="1.4" />
<line x1="402.30" y1="530.90" x2="425.00" y2="530.90" stroke="#000" stroke-width="1.4" />
<line x1="402.30" y1="538.80" x2="425.00" y2="538.80" stroke="#000" stroke-width="1.4" />
<line x1="413.70" y1="530.90" x2="413.70" y2="538.80" stroke="#000" stroke-width="1.2" />
<rect x="412.10" y="525.40" width="3.20" height="3.20" fill="#000" stroke="none" stroke-width="0"/>
<rect x="412.00" y="537.40" width="3.20" height="3.20" fill="#000" stroke="none" stroke-width="0"/>
<rect x="417.60" y="537.00" width="3.20" height="3.20" fill="#000" stroke="none" stroke-width="0"/>
<line x1="459.50" y1="597.10" x2="503.70" y2="597.10" stroke="#000" stroke-width="1.4" />
<line x1="470.10" y1="592.70" x2="493.70" y2="592.70" stroke="#000" stroke-width="1.4" />
<line x1="470.10" y1="601.20" x2="493.70" y2="601.20" stroke="#000" stroke-width="1.4" />
<line x1="481.90" y1="592.70" x2="481.90" y2="601.20" stroke="#000" stroke-width="1.2" />
<rect x="474.90" y="589.70" width="3.00" height="3.00" fill="#000" stroke="none" stroke-width="0"/>
<rect x="480.40" y="592.60" width="3.00" height="3.00" fill="#000" stroke="none" stroke-width="0"/>
<rect x="480.40" y="603.80" width="3.00" height="3.00" fill="#000" stroke="none" stroke-width="0"/>
<text x="413.70" y="616.80" font-size="6.8" text-anchor="middle" font-weight="normal" font-style="normal" font-family="Liberation Sans, sans-serif" fill="#000" >Wildtype</text>
<text x="481.60" y="616.90" font-size="6.8" text-anchor="middle" font-weight="normal" font-style="normal" font-family="Liberation Sans, sans-serif" fill="#000" >DA-Hif-1&#945;b</text>
<text x="447.70" y="627.20" font-size="7.3" text-anchor="middle" font-weight="normal" font-style="normal" font-family="Liberation Sans, sans-serif" fill="#000" >Genotype</text>
</svg>
</body></html>
